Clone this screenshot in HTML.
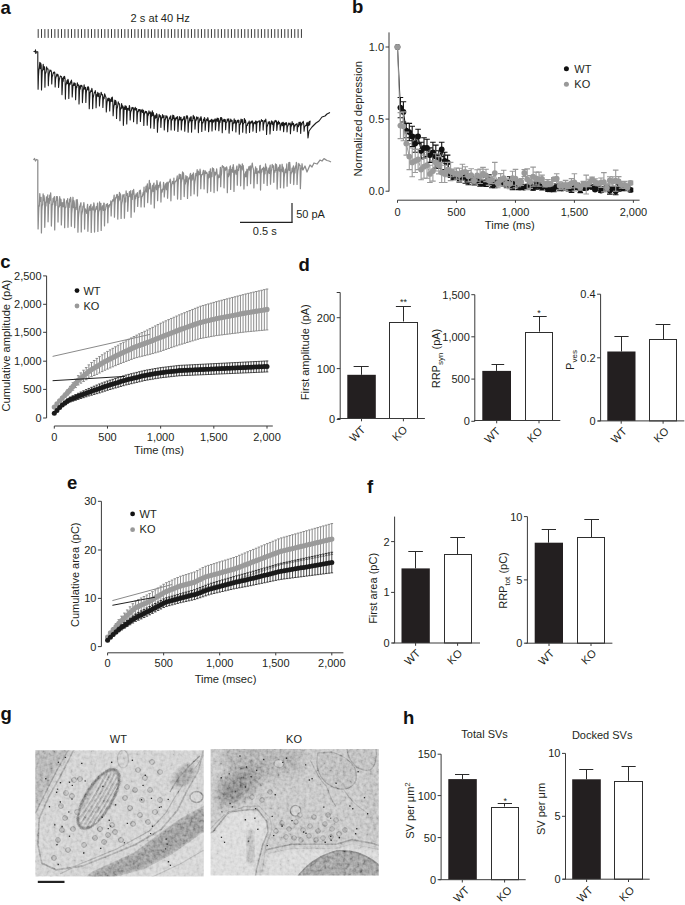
<!DOCTYPE html>
<html><head><meta charset="utf-8"><style>
html,body{margin:0;padding:0;background:#fff;width:685px;height:905px;overflow:hidden}
svg{display:block}
text{font-family:"Liberation Sans",sans-serif}
</style></head><body>
<svg width="685" height="905" viewBox="0 0 685 905">
<text x="0.5" y="13.6" font-size="18.5" text-anchor="start" font-weight="bold" fill="#111" >a</text>
<text x="352.0" y="13.3" font-size="18.5" text-anchor="start" font-weight="bold" fill="#111" >b</text>
<text x="0.3" y="268.0" font-size="18.5" text-anchor="start" font-weight="bold" fill="#111" >c</text>
<text x="298.6" y="271.3" font-size="18.5" text-anchor="start" font-weight="bold" fill="#111" >d</text>
<text x="67.0" y="489.4" font-size="18.5" text-anchor="start" font-weight="bold" fill="#111" >e</text>
<text x="367.0" y="492.9" font-size="18.5" text-anchor="start" font-weight="bold" fill="#111" >f</text>
<text x="0.5" y="719.6" font-size="18.5" text-anchor="start" font-weight="bold" fill="#111" >g</text>
<text x="403.0" y="723.8" font-size="18.5" text-anchor="start" font-weight="bold" fill="#111" >h</text>
<line x1="340.20" y1="292.50" x2="340.20" y2="419.50" stroke="#3a3a3a" stroke-width="1"/>
<line x1="336.70" y1="292.50" x2="340.20" y2="292.50" stroke="#3a3a3a" stroke-width="1"/>
<line x1="336.70" y1="317.70" x2="340.20" y2="317.70" stroke="#3a3a3a" stroke-width="1"/>
<text x="335.2" y="321.6" font-size="11" text-anchor="end" font-weight="normal" fill="#231f20" >200</text>
<line x1="336.70" y1="368.60" x2="340.20" y2="368.60" stroke="#3a3a3a" stroke-width="1"/>
<text x="335.2" y="372.5" font-size="11" text-anchor="end" font-weight="normal" fill="#231f20" >100</text>
<line x1="336.70" y1="419.50" x2="340.20" y2="419.50" stroke="#3a3a3a" stroke-width="1"/>
<text x="335.2" y="423.4" font-size="11" text-anchor="end" font-weight="normal" fill="#231f20" >0</text>
<line x1="361.50" y1="366.50" x2="361.50" y2="374.80" stroke="#2a2a2a" stroke-width="1"/>
<line x1="353.60" y1="366.50" x2="368.70" y2="366.50" stroke="#2a2a2a" stroke-width="1"/>
<rect x="347.30" y="374.80" width="28.50" height="43.70" fill="#231f20" stroke="none" stroke-width="1"/>
<line x1="403.50" y1="306.50" x2="403.50" y2="321.50" stroke="#2a2a2a" stroke-width="1"/>
<line x1="395.90" y1="306.50" x2="410.90" y2="306.50" stroke="#2a2a2a" stroke-width="1"/>
<rect x="389.50" y="322.50" width="28.00" height="96.00" fill="#fff" stroke="#2e2e2e" stroke-width="1"/>
<line x1="337.40" y1="418.50" x2="424.90" y2="418.50" stroke="#3a3a3a" stroke-width="1"/>
<line x1="361.50" y1="418.50" x2="361.50" y2="421.30" stroke="#3a3a3a" stroke-width="1"/>
<line x1="403.40" y1="418.50" x2="403.40" y2="421.30" stroke="#3a3a3a" stroke-width="1"/>
<text x="403.5" y="305.0" font-size="9" text-anchor="middle" font-weight="normal" fill="#231f20" >**</text>
<text transform="translate(309.4,352.2) rotate(-90)" font-size="11" text-anchor="middle" fill="#231f20" >First amplitude (pA)</text>
<text transform="translate(366.0,430.5) rotate(-45)" font-size="11" text-anchor="end" fill="#231f20">WT</text>
<text transform="translate(408.0,430.5) rotate(-45)" font-size="11" text-anchor="end" fill="#231f20">KO</text>
<line x1="474.80" y1="294.70" x2="474.80" y2="421.30" stroke="#3a3a3a" stroke-width="1"/>
<line x1="471.30" y1="294.70" x2="474.80" y2="294.70" stroke="#3a3a3a" stroke-width="1"/>
<text x="469.8" y="298.6" font-size="11" text-anchor="end" font-weight="normal" fill="#231f20" >1,500</text>
<line x1="471.30" y1="336.80" x2="474.80" y2="336.80" stroke="#3a3a3a" stroke-width="1"/>
<text x="469.8" y="340.7" font-size="11" text-anchor="end" font-weight="normal" fill="#231f20" >1,000</text>
<line x1="471.30" y1="379.10" x2="474.80" y2="379.10" stroke="#3a3a3a" stroke-width="1"/>
<text x="469.8" y="383.0" font-size="11" text-anchor="end" font-weight="normal" fill="#231f20" >500</text>
<line x1="471.30" y1="421.30" x2="474.80" y2="421.30" stroke="#3a3a3a" stroke-width="1"/>
<text x="469.8" y="425.2" font-size="11" text-anchor="end" font-weight="normal" fill="#231f20" >0</text>
<line x1="496.50" y1="364.50" x2="496.50" y2="370.90" stroke="#2a2a2a" stroke-width="1"/>
<line x1="491.50" y1="364.50" x2="504.20" y2="364.50" stroke="#2a2a2a" stroke-width="1"/>
<rect x="482.30" y="370.90" width="28.70" height="49.60" fill="#231f20" stroke="none" stroke-width="1"/>
<line x1="539.50" y1="316.50" x2="539.50" y2="331.70" stroke="#2a2a2a" stroke-width="1"/>
<line x1="533.00" y1="316.50" x2="546.70" y2="316.50" stroke="#2a2a2a" stroke-width="1"/>
<rect x="525.50" y="332.50" width="27.00" height="88.00" fill="#fff" stroke="#2e2e2e" stroke-width="1"/>
<line x1="474.00" y1="420.50" x2="560.30" y2="420.50" stroke="#3a3a3a" stroke-width="1"/>
<line x1="496.70" y1="420.50" x2="496.70" y2="423.30" stroke="#3a3a3a" stroke-width="1"/>
<line x1="539.00" y1="420.50" x2="539.00" y2="423.30" stroke="#3a3a3a" stroke-width="1"/>
<text x="538.9" y="315.5" font-size="9" text-anchor="middle" font-weight="normal" fill="#231f20" >*</text>
<text transform="translate(440.3,358.5) rotate(-90)" font-size="11" text-anchor="middle" fill="#231f20" >RRP<tspan font-size="8" dy="3">syn</tspan><tspan dy="-3"> (pA)</tspan></text>
<text transform="translate(501.0,432.0) rotate(-45)" font-size="11" text-anchor="end" fill="#231f20">WT</text>
<text transform="translate(543.0,432.0) rotate(-45)" font-size="11" text-anchor="end" fill="#231f20">KO</text>
<line x1="600.60" y1="294.20" x2="600.60" y2="421.00" stroke="#3a3a3a" stroke-width="1"/>
<line x1="597.10" y1="294.20" x2="600.60" y2="294.20" stroke="#3a3a3a" stroke-width="1"/>
<text x="595.6" y="298.1" font-size="11" text-anchor="end" font-weight="normal" fill="#231f20" >0.4</text>
<line x1="597.10" y1="357.80" x2="600.60" y2="357.80" stroke="#3a3a3a" stroke-width="1"/>
<text x="595.6" y="361.7" font-size="11" text-anchor="end" font-weight="normal" fill="#231f20" >0.2</text>
<line x1="597.10" y1="421.00" x2="600.60" y2="421.00" stroke="#3a3a3a" stroke-width="1"/>
<text x="595.6" y="424.9" font-size="11" text-anchor="end" font-weight="normal" fill="#231f20" >0</text>
<line x1="621.50" y1="336.50" x2="621.50" y2="351.50" stroke="#2a2a2a" stroke-width="1"/>
<line x1="614.40" y1="336.50" x2="628.60" y2="336.50" stroke="#2a2a2a" stroke-width="1"/>
<rect x="607.30" y="351.50" width="28.20" height="69.40" fill="#231f20" stroke="none" stroke-width="1"/>
<line x1="663.50" y1="324.50" x2="663.50" y2="339.40" stroke="#2a2a2a" stroke-width="1"/>
<line x1="655.60" y1="324.50" x2="670.40" y2="324.50" stroke="#2a2a2a" stroke-width="1"/>
<rect x="649.50" y="339.50" width="27.00" height="81.40" fill="#fff" stroke="#2e2e2e" stroke-width="1"/>
<line x1="598.10" y1="420.90" x2="684.30" y2="420.90" stroke="#3a3a3a" stroke-width="1"/>
<line x1="621.20" y1="420.90" x2="621.20" y2="423.70" stroke="#3a3a3a" stroke-width="1"/>
<line x1="663.10" y1="420.90" x2="663.10" y2="423.70" stroke="#3a3a3a" stroke-width="1"/>
<text transform="translate(573.8,360.0) rotate(-90)" font-size="11" text-anchor="middle" fill="#231f20" >P<tspan font-size="8" dy="3">ves</tspan></text>
<text transform="translate(627.5,432.0) rotate(-45)" font-size="11" text-anchor="end" fill="#231f20">WT</text>
<text transform="translate(669.5,432.0) rotate(-45)" font-size="11" text-anchor="end" fill="#231f20">KO</text>
<line x1="394.60" y1="516.60" x2="394.60" y2="643.00" stroke="#3a3a3a" stroke-width="1"/>
<line x1="391.10" y1="541.60" x2="394.60" y2="541.60" stroke="#3a3a3a" stroke-width="1"/>
<text x="389.6" y="545.5" font-size="11" text-anchor="end" font-weight="normal" fill="#231f20" >2</text>
<line x1="391.10" y1="592.40" x2="394.60" y2="592.40" stroke="#3a3a3a" stroke-width="1"/>
<text x="389.6" y="596.3" font-size="11" text-anchor="end" font-weight="normal" fill="#231f20" >1</text>
<line x1="391.10" y1="643.00" x2="394.60" y2="643.00" stroke="#3a3a3a" stroke-width="1"/>
<text x="389.6" y="646.9" font-size="11" text-anchor="end" font-weight="normal" fill="#231f20" >0</text>
<line x1="415.50" y1="551.50" x2="415.50" y2="568.40" stroke="#2a2a2a" stroke-width="1"/>
<line x1="408.30" y1="551.50" x2="422.90" y2="551.50" stroke="#2a2a2a" stroke-width="1"/>
<rect x="401.50" y="568.40" width="28.30" height="74.60" fill="#231f20" stroke="none" stroke-width="1"/>
<line x1="457.50" y1="537.50" x2="457.50" y2="554.00" stroke="#2a2a2a" stroke-width="1"/>
<line x1="450.30" y1="537.50" x2="465.00" y2="537.50" stroke="#2a2a2a" stroke-width="1"/>
<rect x="444.50" y="554.50" width="27.00" height="88.50" fill="#fff" stroke="#2e2e2e" stroke-width="1"/>
<line x1="392.40" y1="643.00" x2="480.00" y2="643.00" stroke="#3a3a3a" stroke-width="1"/>
<line x1="415.60" y1="643.00" x2="415.60" y2="645.80" stroke="#3a3a3a" stroke-width="1"/>
<line x1="457.60" y1="643.00" x2="457.60" y2="645.80" stroke="#3a3a3a" stroke-width="1"/>
<text transform="translate(376.6,588.4) rotate(-90)" font-size="11" text-anchor="middle" fill="#231f20" >First area (pC)</text>
<text transform="translate(421.0,654.0) rotate(-45)" font-size="11" text-anchor="end" fill="#231f20">WT</text>
<text transform="translate(463.0,654.0) rotate(-45)" font-size="11" text-anchor="end" fill="#231f20">KO</text>
<line x1="527.40" y1="516.60" x2="527.40" y2="643.20" stroke="#3a3a3a" stroke-width="1"/>
<line x1="523.90" y1="516.60" x2="527.40" y2="516.60" stroke="#3a3a3a" stroke-width="1"/>
<text x="522.4" y="520.5" font-size="11" text-anchor="end" font-weight="normal" fill="#231f20" >10</text>
<line x1="523.90" y1="579.90" x2="527.40" y2="579.90" stroke="#3a3a3a" stroke-width="1"/>
<text x="522.4" y="583.8" font-size="11" text-anchor="end" font-weight="normal" fill="#231f20" >5</text>
<line x1="523.90" y1="643.20" x2="527.40" y2="643.20" stroke="#3a3a3a" stroke-width="1"/>
<text x="522.4" y="647.1" font-size="11" text-anchor="end" font-weight="normal" fill="#231f20" >0</text>
<line x1="548.50" y1="529.50" x2="548.50" y2="542.70" stroke="#2a2a2a" stroke-width="1"/>
<line x1="541.70" y1="529.50" x2="556.00" y2="529.50" stroke="#2a2a2a" stroke-width="1"/>
<rect x="534.70" y="542.70" width="28.30" height="100.50" fill="#231f20" stroke="none" stroke-width="1"/>
<line x1="591.50" y1="519.50" x2="591.50" y2="537.00" stroke="#2a2a2a" stroke-width="1"/>
<line x1="584.30" y1="519.50" x2="599.00" y2="519.50" stroke="#2a2a2a" stroke-width="1"/>
<rect x="577.50" y="537.50" width="27.00" height="105.70" fill="#fff" stroke="#2e2e2e" stroke-width="1"/>
<line x1="525.50" y1="643.20" x2="612.40" y2="643.20" stroke="#3a3a3a" stroke-width="1"/>
<line x1="549.00" y1="643.20" x2="549.00" y2="646.00" stroke="#3a3a3a" stroke-width="1"/>
<line x1="591.00" y1="643.20" x2="591.00" y2="646.00" stroke="#3a3a3a" stroke-width="1"/>
<text transform="translate(507.0,580.5) rotate(-90)" font-size="11" text-anchor="middle" fill="#231f20" >RRP<tspan font-size="8" dy="3">tot</tspan><tspan dy="-3"> (pC)</tspan></text>
<text transform="translate(555.0,654.0) rotate(-45)" font-size="11" text-anchor="end" fill="#231f20">WT</text>
<text transform="translate(597.0,654.0) rotate(-45)" font-size="11" text-anchor="end" fill="#231f20">KO</text>
<text x="484.6" y="738.4" font-size="11" text-anchor="middle" font-weight="normal" fill="#231f20" >Total SVs</text>
<line x1="441.10" y1="754.20" x2="441.10" y2="879.70" stroke="#3a3a3a" stroke-width="1"/>
<line x1="437.60" y1="754.20" x2="441.10" y2="754.20" stroke="#3a3a3a" stroke-width="1"/>
<text x="436.1" y="758.1" font-size="11" text-anchor="end" font-weight="normal" fill="#231f20" >150</text>
<line x1="437.60" y1="795.60" x2="441.10" y2="795.60" stroke="#3a3a3a" stroke-width="1"/>
<text x="436.1" y="799.5" font-size="11" text-anchor="end" font-weight="normal" fill="#231f20" >100</text>
<line x1="437.60" y1="837.60" x2="441.10" y2="837.60" stroke="#3a3a3a" stroke-width="1"/>
<text x="436.1" y="841.5" font-size="11" text-anchor="end" font-weight="normal" fill="#231f20" >50</text>
<line x1="437.60" y1="879.70" x2="441.10" y2="879.70" stroke="#3a3a3a" stroke-width="1"/>
<text x="436.1" y="883.6" font-size="11" text-anchor="end" font-weight="normal" fill="#231f20" >0</text>
<line x1="462.50" y1="774.50" x2="462.50" y2="779.10" stroke="#2a2a2a" stroke-width="1"/>
<line x1="455.00" y1="774.50" x2="469.30" y2="774.50" stroke="#2a2a2a" stroke-width="1"/>
<rect x="448.30" y="779.10" width="28.50" height="100.60" fill="#231f20" stroke="none" stroke-width="1"/>
<line x1="504.50" y1="803.50" x2="504.50" y2="806.60" stroke="#2a2a2a" stroke-width="1"/>
<line x1="497.70" y1="803.50" x2="512.00" y2="803.50" stroke="#2a2a2a" stroke-width="1"/>
<rect x="491.50" y="807.50" width="27.00" height="72.20" fill="#fff" stroke="#2e2e2e" stroke-width="1"/>
<line x1="438.80" y1="879.70" x2="525.70" y2="879.70" stroke="#3a3a3a" stroke-width="1"/>
<line x1="462.30" y1="879.70" x2="462.30" y2="882.50" stroke="#3a3a3a" stroke-width="1"/>
<line x1="504.60" y1="879.70" x2="504.60" y2="882.50" stroke="#3a3a3a" stroke-width="1"/>
<text x="505.2" y="803.5" font-size="9" text-anchor="middle" font-weight="normal" fill="#231f20" >*</text>
<text transform="translate(414.3,810.5) rotate(-90)" font-size="11" text-anchor="middle" fill="#231f20" >SV per μm<tspan font-size="8" dy="-4">2</tspan></text>
<text transform="translate(470.0,891.0) rotate(-45)" font-size="11" text-anchor="end" fill="#231f20">WT</text>
<text transform="translate(512.5,891.0) rotate(-45)" font-size="11" text-anchor="end" fill="#231f20">KO</text>
<text x="602.2" y="738.6" font-size="11" text-anchor="middle" font-weight="normal" fill="#231f20" >Docked SVs</text>
<line x1="565.50" y1="753.40" x2="565.50" y2="879.20" stroke="#3a3a3a" stroke-width="1"/>
<line x1="562.00" y1="753.40" x2="565.50" y2="753.40" stroke="#3a3a3a" stroke-width="1"/>
<text x="560.5" y="757.3" font-size="11" text-anchor="end" font-weight="normal" fill="#231f20" >10</text>
<line x1="562.00" y1="816.30" x2="565.50" y2="816.30" stroke="#3a3a3a" stroke-width="1"/>
<text x="560.5" y="820.2" font-size="11" text-anchor="end" font-weight="normal" fill="#231f20" >5</text>
<line x1="562.00" y1="879.20" x2="565.50" y2="879.20" stroke="#3a3a3a" stroke-width="1"/>
<text x="560.5" y="883.1" font-size="11" text-anchor="end" font-weight="normal" fill="#231f20" >0</text>
<line x1="586.50" y1="769.50" x2="586.50" y2="779.30" stroke="#2a2a2a" stroke-width="1"/>
<line x1="579.20" y1="769.50" x2="593.30" y2="769.50" stroke="#2a2a2a" stroke-width="1"/>
<rect x="572.20" y="779.30" width="28.60" height="99.90" fill="#231f20" stroke="none" stroke-width="1"/>
<line x1="628.50" y1="766.50" x2="628.50" y2="780.80" stroke="#2a2a2a" stroke-width="1"/>
<line x1="621.50" y1="766.50" x2="635.70" y2="766.50" stroke="#2a2a2a" stroke-width="1"/>
<rect x="614.50" y="781.50" width="28.00" height="97.70" fill="#fff" stroke="#2e2e2e" stroke-width="1"/>
<line x1="562.90" y1="879.20" x2="649.70" y2="879.20" stroke="#3a3a3a" stroke-width="1"/>
<line x1="586.60" y1="879.20" x2="586.60" y2="882.00" stroke="#3a3a3a" stroke-width="1"/>
<line x1="628.50" y1="879.20" x2="628.50" y2="882.00" stroke="#3a3a3a" stroke-width="1"/>
<text transform="translate(545.0,809.0) rotate(-90)" font-size="11" text-anchor="middle" fill="#231f20" >SV per μm</text>
<text transform="translate(593.5,891.0) rotate(-45)" font-size="11" text-anchor="end" fill="#231f20">WT</text>
<text transform="translate(635.0,891.0) rotate(-45)" font-size="11" text-anchor="end" fill="#231f20">KO</text>
<line x1="389.00" y1="32.40" x2="389.00" y2="191.50" stroke="#3a3a3a" stroke-width="1"/>
<line x1="385.50" y1="47.00" x2="389.00" y2="47.00" stroke="#3a3a3a" stroke-width="1"/>
<text x="384.0" y="50.9" font-size="11" text-anchor="end" font-weight="normal" fill="#231f20" >1.0</text>
<line x1="385.50" y1="119.10" x2="389.00" y2="119.10" stroke="#3a3a3a" stroke-width="1"/>
<text x="384.0" y="123.0" font-size="11" text-anchor="end" font-weight="normal" fill="#231f20" >0.5</text>
<line x1="385.50" y1="191.20" x2="389.00" y2="191.20" stroke="#3a3a3a" stroke-width="1"/>
<text x="384.0" y="195.1" font-size="11" text-anchor="end" font-weight="normal" fill="#231f20" >0.0</text>
<line x1="397.50" y1="200.20" x2="639.60" y2="200.20" stroke="#3a3a3a" stroke-width="1"/>
<line x1="397.50" y1="200.20" x2="397.50" y2="202.80" stroke="#3a3a3a" stroke-width="1"/>
<text x="397.5" y="215.5" font-size="11" text-anchor="middle" font-weight="normal" fill="#231f20" >0</text>
<line x1="456.48" y1="200.20" x2="456.48" y2="202.80" stroke="#3a3a3a" stroke-width="1"/>
<text x="456.5" y="215.5" font-size="11" text-anchor="middle" font-weight="normal" fill="#231f20" >500</text>
<line x1="515.45" y1="200.20" x2="515.45" y2="202.80" stroke="#3a3a3a" stroke-width="1"/>
<text x="515.5" y="215.5" font-size="11" text-anchor="middle" font-weight="normal" fill="#231f20" >1,000</text>
<line x1="574.42" y1="200.20" x2="574.42" y2="202.80" stroke="#3a3a3a" stroke-width="1"/>
<text x="574.4" y="215.5" font-size="11" text-anchor="middle" font-weight="normal" fill="#231f20" >1,500</text>
<line x1="633.40" y1="200.20" x2="633.40" y2="202.80" stroke="#3a3a3a" stroke-width="1"/>
<text x="633.4" y="215.5" font-size="11" text-anchor="middle" font-weight="normal" fill="#231f20" >2,000</text>
<text x="509.8" y="228.8" font-size="11.2" text-anchor="middle" font-weight="normal" fill="#231f20" >Time (ms)</text>
<text transform="translate(362.1,118.8) rotate(-90)" font-size="11.3" text-anchor="middle" fill="#231f20" >Normalized depression</text>
<circle cx="566.4" cy="68.7" r="2.5" fill="#111"/>
<circle cx="566.4" cy="84.3" r="2.5" fill="#999"/>
<text x="574.3" y="72.6" font-size="11" text-anchor="start" font-weight="normal" fill="#231f20" >WT</text>
<text x="574.3" y="87.8" font-size="11" text-anchor="start" font-weight="normal" fill="#231f20" >KO</text>
<polyline fill="none" stroke="#111" stroke-width="1.0" points="397.5,47.0 400.4,107.6 403.4,111.9 406.3,130.6 409.3,132.1 412.2,136.4 415.2,143.6 418.1,136.4 421.1,150.8 424.0,147.9 427.0,147.9 429.9,155.1 432.9,152.3 435.8,156.6 438.8,159.5 441.7,149.4 444.7,160.9 447.6,162.4 450.6,175.2 453.5,177.0 456.5,174.9 459.4,178.9 462.4,176.9 465.3,178.5 468.3,180.9 471.2,178.8 474.2,182.1 477.1,180.3 480.1,182.9 483.0,183.2 486.0,181.7 488.9,179.8 491.9,184.3 494.8,184.1 497.8,182.1 500.7,180.6 503.7,183.1 506.6,184.4 509.6,181.3 512.5,187.0 515.5,182.6 518.4,186.1 521.3,187.2 524.3,187.5 527.2,186.6 530.2,183.9 533.1,187.8 536.1,185.6 539.0,185.5 542.0,187.2 544.9,186.3 547.9,189.3 550.8,189.4 553.8,188.7 556.7,186.1 559.7,187.7 562.6,188.4 565.6,187.0 568.5,187.8 571.5,188.8 574.4,186.1 577.4,186.7 580.3,189.4 583.3,187.6 586.2,187.9 589.2,186.0 592.1,186.9 595.1,189.5 598.0,185.6 601.0,190.6 603.9,188.9 606.9,187.0 609.8,190.6 612.8,188.7 615.7,191.3 618.7,187.7 621.6,187.2 624.6,188.3 627.5,186.6 630.5,189.9"/>
<path d="M400.4 97.5V117.7M397.6 97.5h5.6M397.6 117.7h5.6" stroke="#111" stroke-width="1.1" fill="none"/>
<path d="M403.4 101.8V122.0M400.6 101.8h5.6M400.6 122.0h5.6" stroke="#111" stroke-width="1.1" fill="none"/>
<path d="M406.3 123.4V137.8M403.5 123.4h5.6M403.5 137.8h5.6" stroke="#111" stroke-width="1.1" fill="none"/>
<path d="M409.3 123.4V140.7M406.5 123.4h5.6M406.5 140.7h5.6" stroke="#111" stroke-width="1.1" fill="none"/>
<path d="M412.2 126.3V146.5M409.4 126.3h5.6M409.4 146.5h5.6" stroke="#111" stroke-width="1.1" fill="none"/>
<path d="M415.2 135.0V152.3M412.4 135.0h5.6M412.4 152.3h5.6" stroke="#111" stroke-width="1.1" fill="none"/>
<path d="M418.1 129.2V143.6M415.3 129.2h5.6M415.3 143.6h5.6" stroke="#111" stroke-width="1.1" fill="none"/>
<path d="M421.1 142.2V159.5M418.3 142.2h5.6M418.3 159.5h5.6" stroke="#111" stroke-width="1.1" fill="none"/>
<path d="M424.0 137.8V158.0M421.2 137.8h5.6M421.2 158.0h5.6" stroke="#111" stroke-width="1.1" fill="none"/>
<path d="M427.0 139.3V156.6M424.2 139.3h5.6M424.2 156.6h5.6" stroke="#111" stroke-width="1.1" fill="none"/>
<path d="M429.9 147.9V162.4M427.1 147.9h5.6M427.1 162.4h5.6" stroke="#111" stroke-width="1.1" fill="none"/>
<path d="M432.9 142.2V162.4M430.1 142.2h5.6M430.1 162.4h5.6" stroke="#111" stroke-width="1.1" fill="none"/>
<path d="M435.8 145.1V168.1M433.0 145.1h5.6M433.0 168.1h5.6" stroke="#111" stroke-width="1.1" fill="none"/>
<path d="M438.8 150.8V168.1M436.0 150.8h5.6M436.0 168.1h5.6" stroke="#111" stroke-width="1.1" fill="none"/>
<path d="M441.7 142.2V156.6M438.9 142.2h5.6M438.9 156.6h5.6" stroke="#111" stroke-width="1.1" fill="none"/>
<path d="M444.7 152.3V169.6M441.9 152.3h5.6M441.9 169.6h5.6" stroke="#111" stroke-width="1.1" fill="none"/>
<path d="M447.6 155.1V169.6M444.8 155.1h5.6M444.8 169.6h5.6" stroke="#111" stroke-width="1.1" fill="none"/>
<path d="M450.6 173.1V177.4M447.8 173.1h5.6M447.8 177.4h5.6" stroke="#111" stroke-width="1.1" fill="none"/>
<path d="M453.5 174.4V179.6M450.7 174.4h5.6M450.7 179.6h5.6" stroke="#111" stroke-width="1.1" fill="none"/>
<path d="M456.5 172.4V177.3M453.7 172.4h5.6M453.7 177.3h5.6" stroke="#111" stroke-width="1.1" fill="none"/>
<path d="M459.4 175.7V182.1M456.6 175.7h5.6M456.6 182.1h5.6" stroke="#111" stroke-width="1.1" fill="none"/>
<path d="M462.4 174.6V179.1M459.6 174.6h5.6M459.6 179.1h5.6" stroke="#111" stroke-width="1.1" fill="none"/>
<path d="M465.3 173.8V183.2M462.5 173.8h5.6M462.5 183.2h5.6" stroke="#111" stroke-width="1.1" fill="none"/>
<path d="M468.3 176.9V184.8M465.5 176.9h5.6M465.5 184.8h5.6" stroke="#111" stroke-width="1.1" fill="none"/>
<path d="M471.2 176.2V181.4M468.4 176.2h5.6M468.4 181.4h5.6" stroke="#111" stroke-width="1.1" fill="none"/>
<path d="M474.2 179.2V185.0M471.4 179.2h5.6M471.4 185.0h5.6" stroke="#111" stroke-width="1.1" fill="none"/>
<path d="M477.1 177.1V183.5M474.3 177.1h5.6M474.3 183.5h5.6" stroke="#111" stroke-width="1.1" fill="none"/>
<path d="M480.1 179.7V186.1M477.3 179.7h5.6M477.3 186.1h5.6" stroke="#111" stroke-width="1.1" fill="none"/>
<path d="M483.0 180.7V185.8M480.2 180.7h5.6M480.2 185.8h5.6" stroke="#111" stroke-width="1.1" fill="none"/>
<path d="M486.0 177.1V186.4M483.2 177.1h5.6M483.2 186.4h5.6" stroke="#111" stroke-width="1.1" fill="none"/>
<path d="M488.9 174.8V184.9M486.1 174.8h5.6M486.1 184.9h5.6" stroke="#111" stroke-width="1.1" fill="none"/>
<path d="M491.9 180.8V187.8M489.1 180.8h5.6M489.1 187.8h5.6" stroke="#111" stroke-width="1.1" fill="none"/>
<path d="M494.8 180.5V187.6M492.0 180.5h5.6M492.0 187.6h5.6" stroke="#111" stroke-width="1.1" fill="none"/>
<path d="M497.8 179.7V184.5M495.0 179.7h5.6M495.0 184.5h5.6" stroke="#111" stroke-width="1.1" fill="none"/>
<path d="M500.7 178.1V183.1M497.9 178.1h5.6M497.9 183.1h5.6" stroke="#111" stroke-width="1.1" fill="none"/>
<path d="M503.7 179.9V186.2M500.9 179.9h5.6M500.9 186.2h5.6" stroke="#111" stroke-width="1.1" fill="none"/>
<path d="M506.6 181.5V187.3M503.8 181.5h5.6M503.8 187.3h5.6" stroke="#111" stroke-width="1.1" fill="none"/>
<path d="M509.6 176.8V185.9M506.8 176.8h5.6M506.8 185.9h5.6" stroke="#111" stroke-width="1.1" fill="none"/>
<path d="M512.5 184.3V189.6M509.7 184.3h5.6M509.7 189.6h5.6" stroke="#111" stroke-width="1.1" fill="none"/>
<path d="M515.5 180.3V184.8M512.7 180.3h5.6M512.7 184.8h5.6" stroke="#111" stroke-width="1.1" fill="none"/>
<path d="M518.4 182.6V189.6M515.6 182.6h5.6M515.6 189.6h5.6" stroke="#111" stroke-width="1.1" fill="none"/>
<path d="M521.3 184.7V189.6M518.5 184.7h5.6M518.5 189.6h5.6" stroke="#111" stroke-width="1.1" fill="none"/>
<path d="M524.3 186.0V189.0M521.5 186.0h5.6M521.5 189.0h5.6" stroke="#111" stroke-width="1.1" fill="none"/>
<path d="M527.2 184.2V189.1M524.4 184.2h5.6M524.4 189.1h5.6" stroke="#111" stroke-width="1.1" fill="none"/>
<path d="M530.2 182.7V185.1M527.4 182.7h5.6M527.4 185.1h5.6" stroke="#111" stroke-width="1.1" fill="none"/>
<path d="M533.1 185.3V190.2M530.3 185.3h5.6M530.3 190.2h5.6" stroke="#111" stroke-width="1.1" fill="none"/>
<path d="M536.1 182.1V189.2M533.3 182.1h5.6M533.3 189.2h5.6" stroke="#111" stroke-width="1.1" fill="none"/>
<path d="M539.0 182.2V188.7M536.2 182.2h5.6M536.2 188.7h5.6" stroke="#111" stroke-width="1.1" fill="none"/>
<path d="M542.0 184.3V190.0M539.2 184.3h5.6M539.2 190.0h5.6" stroke="#111" stroke-width="1.1" fill="none"/>
<path d="M544.9 184.5V188.1M542.1 184.5h5.6M542.1 188.1h5.6" stroke="#111" stroke-width="1.1" fill="none"/>
<path d="M547.9 187.2V191.3M545.1 187.2h5.6M545.1 191.3h5.6" stroke="#111" stroke-width="1.1" fill="none"/>
<path d="M550.8 187.9V191.0M548.0 187.9h5.6M548.0 191.0h5.6" stroke="#111" stroke-width="1.1" fill="none"/>
<path d="M553.8 185.7V191.7M551.0 185.7h5.6M551.0 191.7h5.6" stroke="#111" stroke-width="1.1" fill="none"/>
<path d="M556.7 183.6V188.6M553.9 183.6h5.6M553.9 188.6h5.6" stroke="#111" stroke-width="1.1" fill="none"/>
<path d="M559.7 184.6V190.7M556.9 184.6h5.6M556.9 190.7h5.6" stroke="#111" stroke-width="1.1" fill="none"/>
<path d="M562.6 186.5V190.4M559.8 186.5h5.6M559.8 190.4h5.6" stroke="#111" stroke-width="1.1" fill="none"/>
<path d="M565.6 185.3V188.7M562.8 185.3h5.6M562.8 188.7h5.6" stroke="#111" stroke-width="1.1" fill="none"/>
<path d="M568.5 184.7V191.0M565.7 184.7h5.6M565.7 191.0h5.6" stroke="#111" stroke-width="1.1" fill="none"/>
<path d="M571.5 185.3V192.4M568.7 185.3h5.6M568.7 192.4h5.6" stroke="#111" stroke-width="1.1" fill="none"/>
<path d="M574.4 182.8V189.3M571.6 182.8h5.6M571.6 189.3h5.6" stroke="#111" stroke-width="1.1" fill="none"/>
<path d="M577.4 183.6V189.8M574.6 183.6h5.6M574.6 189.8h5.6" stroke="#111" stroke-width="1.1" fill="none"/>
<path d="M580.3 186.2V192.6M577.5 186.2h5.6M577.5 192.6h5.6" stroke="#111" stroke-width="1.1" fill="none"/>
<path d="M583.3 184.6V190.5M580.5 184.6h5.6M580.5 190.5h5.6" stroke="#111" stroke-width="1.1" fill="none"/>
<path d="M586.2 186.2V189.6M583.4 186.2h5.6M583.4 189.6h5.6" stroke="#111" stroke-width="1.1" fill="none"/>
<path d="M589.2 183.6V188.4M586.4 183.6h5.6M586.4 188.4h5.6" stroke="#111" stroke-width="1.1" fill="none"/>
<path d="M592.1 184.9V188.9M589.3 184.9h5.6M589.3 188.9h5.6" stroke="#111" stroke-width="1.1" fill="none"/>
<path d="M595.1 188.3V190.7M592.3 188.3h5.6M592.3 190.7h5.6" stroke="#111" stroke-width="1.1" fill="none"/>
<path d="M598.0 184.4V186.8M595.2 184.4h5.6M595.2 186.8h5.6" stroke="#111" stroke-width="1.1" fill="none"/>
<path d="M601.0 188.8V192.4M598.2 188.8h5.6M598.2 192.4h5.6" stroke="#111" stroke-width="1.1" fill="none"/>
<path d="M603.9 187.1V190.7M601.1 187.1h5.6M601.1 190.7h5.6" stroke="#111" stroke-width="1.1" fill="none"/>
<path d="M606.9 184.2V189.9M604.1 184.2h5.6M604.1 189.9h5.6" stroke="#111" stroke-width="1.1" fill="none"/>
<path d="M609.8 187.1V194.1M607.0 187.1h5.6M607.0 194.1h5.6" stroke="#111" stroke-width="1.1" fill="none"/>
<path d="M612.8 186.4V190.9M610.0 186.4h5.6M610.0 190.9h5.6" stroke="#111" stroke-width="1.1" fill="none"/>
<path d="M615.7 187.9V194.8M612.9 187.9h5.6M612.9 194.8h5.6" stroke="#111" stroke-width="1.1" fill="none"/>
<path d="M618.7 184.1V191.3M615.9 184.1h5.6M615.9 191.3h5.6" stroke="#111" stroke-width="1.1" fill="none"/>
<path d="M621.6 183.7V190.7M618.8 183.7h5.6M618.8 190.7h5.6" stroke="#111" stroke-width="1.1" fill="none"/>
<path d="M624.6 186.3V190.4M621.8 186.3h5.6M621.8 190.4h5.6" stroke="#111" stroke-width="1.1" fill="none"/>
<path d="M627.5 184.9V188.3M624.7 184.9h5.6M624.7 188.3h5.6" stroke="#111" stroke-width="1.1" fill="none"/>
<path d="M630.5 188.2V191.6M627.7 188.2h5.6M627.7 191.6h5.6" stroke="#111" stroke-width="1.1" fill="none"/>
<circle cx="397.5" cy="47.0" r="2.9" fill="#111"/>
<circle cx="400.4" cy="107.6" r="2.9" fill="#111"/>
<circle cx="403.4" cy="111.9" r="2.9" fill="#111"/>
<circle cx="406.3" cy="130.6" r="2.9" fill="#111"/>
<circle cx="409.3" cy="132.1" r="2.9" fill="#111"/>
<circle cx="412.2" cy="136.4" r="2.9" fill="#111"/>
<circle cx="415.2" cy="143.6" r="2.9" fill="#111"/>
<circle cx="418.1" cy="136.4" r="2.9" fill="#111"/>
<circle cx="421.1" cy="150.8" r="2.9" fill="#111"/>
<circle cx="424.0" cy="147.9" r="2.9" fill="#111"/>
<circle cx="427.0" cy="147.9" r="2.9" fill="#111"/>
<circle cx="429.9" cy="155.1" r="2.9" fill="#111"/>
<circle cx="432.9" cy="152.3" r="2.9" fill="#111"/>
<circle cx="435.8" cy="156.6" r="2.9" fill="#111"/>
<circle cx="438.8" cy="159.5" r="2.9" fill="#111"/>
<circle cx="441.7" cy="149.4" r="2.9" fill="#111"/>
<circle cx="444.7" cy="160.9" r="2.9" fill="#111"/>
<circle cx="447.6" cy="162.4" r="2.9" fill="#111"/>
<circle cx="450.6" cy="175.2" r="2.9" fill="#111"/>
<circle cx="453.5" cy="177.0" r="2.9" fill="#111"/>
<circle cx="456.5" cy="174.9" r="2.9" fill="#111"/>
<circle cx="459.4" cy="178.9" r="2.9" fill="#111"/>
<circle cx="462.4" cy="176.9" r="2.9" fill="#111"/>
<circle cx="465.3" cy="178.5" r="2.9" fill="#111"/>
<circle cx="468.3" cy="180.9" r="2.9" fill="#111"/>
<circle cx="471.2" cy="178.8" r="2.9" fill="#111"/>
<circle cx="474.2" cy="182.1" r="2.9" fill="#111"/>
<circle cx="477.1" cy="180.3" r="2.9" fill="#111"/>
<circle cx="480.1" cy="182.9" r="2.9" fill="#111"/>
<circle cx="483.0" cy="183.2" r="2.9" fill="#111"/>
<circle cx="486.0" cy="181.7" r="2.9" fill="#111"/>
<circle cx="488.9" cy="179.8" r="2.9" fill="#111"/>
<circle cx="491.9" cy="184.3" r="2.9" fill="#111"/>
<circle cx="494.8" cy="184.1" r="2.9" fill="#111"/>
<circle cx="497.8" cy="182.1" r="2.9" fill="#111"/>
<circle cx="500.7" cy="180.6" r="2.9" fill="#111"/>
<circle cx="503.7" cy="183.1" r="2.9" fill="#111"/>
<circle cx="506.6" cy="184.4" r="2.9" fill="#111"/>
<circle cx="509.6" cy="181.3" r="2.9" fill="#111"/>
<circle cx="512.5" cy="187.0" r="2.9" fill="#111"/>
<circle cx="515.5" cy="182.6" r="2.9" fill="#111"/>
<circle cx="518.4" cy="186.1" r="2.9" fill="#111"/>
<circle cx="521.3" cy="187.2" r="2.9" fill="#111"/>
<circle cx="524.3" cy="187.5" r="2.9" fill="#111"/>
<circle cx="527.2" cy="186.6" r="2.9" fill="#111"/>
<circle cx="530.2" cy="183.9" r="2.9" fill="#111"/>
<circle cx="533.1" cy="187.8" r="2.9" fill="#111"/>
<circle cx="536.1" cy="185.6" r="2.9" fill="#111"/>
<circle cx="539.0" cy="185.5" r="2.9" fill="#111"/>
<circle cx="542.0" cy="187.2" r="2.9" fill="#111"/>
<circle cx="544.9" cy="186.3" r="2.9" fill="#111"/>
<circle cx="547.9" cy="189.3" r="2.9" fill="#111"/>
<circle cx="550.8" cy="189.4" r="2.9" fill="#111"/>
<circle cx="553.8" cy="188.7" r="2.9" fill="#111"/>
<circle cx="556.7" cy="186.1" r="2.9" fill="#111"/>
<circle cx="559.7" cy="187.7" r="2.9" fill="#111"/>
<circle cx="562.6" cy="188.4" r="2.9" fill="#111"/>
<circle cx="565.6" cy="187.0" r="2.9" fill="#111"/>
<circle cx="568.5" cy="187.8" r="2.9" fill="#111"/>
<circle cx="571.5" cy="188.8" r="2.9" fill="#111"/>
<circle cx="574.4" cy="186.1" r="2.9" fill="#111"/>
<circle cx="577.4" cy="186.7" r="2.9" fill="#111"/>
<circle cx="580.3" cy="189.4" r="2.9" fill="#111"/>
<circle cx="583.3" cy="187.6" r="2.9" fill="#111"/>
<circle cx="586.2" cy="187.9" r="2.9" fill="#111"/>
<circle cx="589.2" cy="186.0" r="2.9" fill="#111"/>
<circle cx="592.1" cy="186.9" r="2.9" fill="#111"/>
<circle cx="595.1" cy="189.5" r="2.9" fill="#111"/>
<circle cx="598.0" cy="185.6" r="2.9" fill="#111"/>
<circle cx="601.0" cy="190.6" r="2.9" fill="#111"/>
<circle cx="603.9" cy="188.9" r="2.9" fill="#111"/>
<circle cx="606.9" cy="187.0" r="2.9" fill="#111"/>
<circle cx="609.8" cy="190.6" r="2.9" fill="#111"/>
<circle cx="612.8" cy="188.7" r="2.9" fill="#111"/>
<circle cx="615.7" cy="191.3" r="2.9" fill="#111"/>
<circle cx="618.7" cy="187.7" r="2.9" fill="#111"/>
<circle cx="621.6" cy="187.2" r="2.9" fill="#111"/>
<circle cx="624.6" cy="188.3" r="2.9" fill="#111"/>
<circle cx="627.5" cy="186.6" r="2.9" fill="#111"/>
<circle cx="630.5" cy="189.9" r="2.9" fill="#111"/>
<polyline fill="none" stroke="#9a9a9a" stroke-width="1.0" points="397.5,47.0 400.4,125.6 403.4,126.3 406.3,143.6 409.3,156.6 412.2,162.4 415.2,160.9 418.1,159.5 421.1,169.6 424.0,166.7 427.0,165.2 429.9,173.9 432.9,171.0 435.8,162.4 438.8,165.2 441.7,172.5 444.7,173.9 447.6,169.6 450.6,171.5 453.5,172.9 456.5,173.5 459.4,175.1 462.4,172.3 465.3,171.8 468.3,176.3 471.2,175.1 474.2,180.7 477.1,175.5 480.1,176.3 483.0,173.6 486.0,175.4 488.9,180.4 491.9,179.8 494.8,173.1 497.8,183.5 500.7,179.9 503.7,178.1 506.6,183.4 509.6,184.1 512.5,178.2 515.5,178.7 518.4,183.1 521.3,182.0 524.3,173.0 527.2,179.2 530.2,182.0 533.1,176.7 536.1,178.5 539.0,179.2 542.0,179.0 544.9,184.2 547.9,183.1 550.8,183.7 553.8,179.2 556.7,178.7 559.7,185.8 562.6,185.7 565.6,185.3 568.5,185.3 571.5,183.2 574.4,182.4 577.4,185.3 580.3,187.6 583.3,184.1 586.2,184.6 589.2,182.9 592.1,179.6 595.1,182.0 598.0,183.5 601.0,182.7 603.9,182.2 606.9,187.7 609.8,180.4 612.8,181.5 615.7,180.7 618.7,181.4 621.6,184.9 624.6,184.9 627.5,187.5 630.5,182.9"/>
<path d="M400.4 112.6V138.6M397.6 112.6h5.6M397.6 138.6h5.6" stroke="#9a9a9a" stroke-width="1.1" fill="none"/>
<path d="M403.4 111.9V140.7M400.6 111.9h5.6M400.6 140.7h5.6" stroke="#9a9a9a" stroke-width="1.1" fill="none"/>
<path d="M406.3 132.1V155.1M403.5 132.1h5.6M403.5 155.1h5.6" stroke="#9a9a9a" stroke-width="1.1" fill="none"/>
<path d="M409.3 143.6V169.6M406.5 143.6h5.6M406.5 169.6h5.6" stroke="#9a9a9a" stroke-width="1.1" fill="none"/>
<path d="M412.2 147.9V176.8M409.4 147.9h5.6M409.4 176.8h5.6" stroke="#9a9a9a" stroke-width="1.1" fill="none"/>
<path d="M415.2 149.4V172.5M412.4 149.4h5.6M412.4 172.5h5.6" stroke="#9a9a9a" stroke-width="1.1" fill="none"/>
<path d="M418.1 149.4V169.6M415.3 149.4h5.6M415.3 169.6h5.6" stroke="#9a9a9a" stroke-width="1.1" fill="none"/>
<path d="M421.1 159.5V179.7M418.3 159.5h5.6M418.3 179.7h5.6" stroke="#9a9a9a" stroke-width="1.1" fill="none"/>
<path d="M424.0 155.1V178.2M421.2 155.1h5.6M421.2 178.2h5.6" stroke="#9a9a9a" stroke-width="1.1" fill="none"/>
<path d="M427.0 152.3V178.2M424.2 152.3h5.6M424.2 178.2h5.6" stroke="#9a9a9a" stroke-width="1.1" fill="none"/>
<path d="M429.9 165.2V182.5M427.1 165.2h5.6M427.1 182.5h5.6" stroke="#9a9a9a" stroke-width="1.1" fill="none"/>
<path d="M432.9 160.9V181.1M430.1 160.9h5.6M430.1 181.1h5.6" stroke="#9a9a9a" stroke-width="1.1" fill="none"/>
<path d="M435.8 153.7V171.0M433.0 153.7h5.6M433.0 171.0h5.6" stroke="#9a9a9a" stroke-width="1.1" fill="none"/>
<path d="M438.8 156.6V173.9M436.0 156.6h5.6M436.0 173.9h5.6" stroke="#9a9a9a" stroke-width="1.1" fill="none"/>
<path d="M441.7 162.4V182.5M438.9 162.4h5.6M438.9 182.5h5.6" stroke="#9a9a9a" stroke-width="1.1" fill="none"/>
<path d="M444.7 165.2V182.5M441.9 165.2h5.6M441.9 182.5h5.6" stroke="#9a9a9a" stroke-width="1.1" fill="none"/>
<path d="M447.6 162.4V176.8M444.8 162.4h5.6M444.8 176.8h5.6" stroke="#9a9a9a" stroke-width="1.1" fill="none"/>
<path d="M450.6 162.4V180.6M447.8 162.4h5.6M447.8 180.6h5.6" stroke="#9a9a9a" stroke-width="1.1" fill="none"/>
<path d="M453.5 169.1V176.7M450.7 169.1h5.6M450.7 176.7h5.6" stroke="#9a9a9a" stroke-width="1.1" fill="none"/>
<path d="M456.5 168.0V179.1M453.7 168.0h5.6M453.7 179.1h5.6" stroke="#9a9a9a" stroke-width="1.1" fill="none"/>
<path d="M459.4 168.3V181.9M456.6 168.3h5.6M456.6 181.9h5.6" stroke="#9a9a9a" stroke-width="1.1" fill="none"/>
<path d="M462.4 164.3V180.3M459.6 164.3h5.6M459.6 180.3h5.6" stroke="#9a9a9a" stroke-width="1.1" fill="none"/>
<path d="M465.3 166.8V176.8M462.5 166.8h5.6M462.5 176.8h5.6" stroke="#9a9a9a" stroke-width="1.1" fill="none"/>
<path d="M468.3 170.6V182.0M465.5 170.6h5.6M465.5 182.0h5.6" stroke="#9a9a9a" stroke-width="1.1" fill="none"/>
<path d="M471.2 168.7V181.4M468.4 168.7h5.6M468.4 181.4h5.6" stroke="#9a9a9a" stroke-width="1.1" fill="none"/>
<path d="M474.2 177.4V183.9M471.4 177.4h5.6M471.4 183.9h5.6" stroke="#9a9a9a" stroke-width="1.1" fill="none"/>
<path d="M477.1 169.7V181.2M474.3 169.7h5.6M474.3 181.2h5.6" stroke="#9a9a9a" stroke-width="1.1" fill="none"/>
<path d="M480.1 169.1V183.5M477.3 169.1h5.6M477.3 183.5h5.6" stroke="#9a9a9a" stroke-width="1.1" fill="none"/>
<path d="M483.0 167.4V179.9M480.2 167.4h5.6M480.2 179.9h5.6" stroke="#9a9a9a" stroke-width="1.1" fill="none"/>
<path d="M486.0 169.3V181.6M483.2 169.3h5.6M483.2 181.6h5.6" stroke="#9a9a9a" stroke-width="1.1" fill="none"/>
<path d="M488.9 175.5V185.4M486.1 175.5h5.6M486.1 185.4h5.6" stroke="#9a9a9a" stroke-width="1.1" fill="none"/>
<path d="M491.9 176.2V183.5M489.1 176.2h5.6M489.1 183.5h5.6" stroke="#9a9a9a" stroke-width="1.1" fill="none"/>
<path d="M494.8 162.4V183.7M492.0 162.4h5.6M492.0 183.7h5.6" stroke="#9a9a9a" stroke-width="1.1" fill="none"/>
<path d="M497.8 179.2V187.8M495.0 179.2h5.6M495.0 187.8h5.6" stroke="#9a9a9a" stroke-width="1.1" fill="none"/>
<path d="M500.7 173.6V186.3M497.9 173.6h5.6M497.9 186.3h5.6" stroke="#9a9a9a" stroke-width="1.1" fill="none"/>
<path d="M503.7 170.2V186.1M500.9 170.2h5.6M500.9 186.1h5.6" stroke="#9a9a9a" stroke-width="1.1" fill="none"/>
<path d="M506.6 178.8V188.0M503.8 178.8h5.6M503.8 188.0h5.6" stroke="#9a9a9a" stroke-width="1.1" fill="none"/>
<path d="M509.6 179.5V188.7M506.8 179.5h5.6M506.8 188.7h5.6" stroke="#9a9a9a" stroke-width="1.1" fill="none"/>
<path d="M512.5 171.2V185.2M509.7 171.2h5.6M509.7 185.2h5.6" stroke="#9a9a9a" stroke-width="1.1" fill="none"/>
<path d="M515.5 169.4V187.9M512.7 169.4h5.6M512.7 187.9h5.6" stroke="#9a9a9a" stroke-width="1.1" fill="none"/>
<path d="M518.4 179.5V186.7M515.6 179.5h5.6M515.6 186.7h5.6" stroke="#9a9a9a" stroke-width="1.1" fill="none"/>
<path d="M521.3 178.6V185.5M518.5 178.6h5.6M518.5 185.5h5.6" stroke="#9a9a9a" stroke-width="1.1" fill="none"/>
<path d="M524.3 169.5V176.5M521.5 169.5h5.6M521.5 176.5h5.6" stroke="#9a9a9a" stroke-width="1.1" fill="none"/>
<path d="M527.2 168.9V189.6M524.4 168.9h5.6M524.4 189.6h5.6" stroke="#9a9a9a" stroke-width="1.1" fill="none"/>
<path d="M530.2 175.6V188.4M527.4 175.6h5.6M527.4 188.4h5.6" stroke="#9a9a9a" stroke-width="1.1" fill="none"/>
<path d="M533.1 167.1V186.3M530.3 167.1h5.6M530.3 186.3h5.6" stroke="#9a9a9a" stroke-width="1.1" fill="none"/>
<path d="M536.1 172.1V185.0M533.3 172.1h5.6M533.3 185.0h5.6" stroke="#9a9a9a" stroke-width="1.1" fill="none"/>
<path d="M539.0 172.1V186.3M536.2 172.1h5.6M536.2 186.3h5.6" stroke="#9a9a9a" stroke-width="1.1" fill="none"/>
<path d="M542.0 175.1V182.9M539.2 175.1h5.6M539.2 182.9h5.6" stroke="#9a9a9a" stroke-width="1.1" fill="none"/>
<path d="M544.9 181.3V187.0M542.1 181.3h5.6M542.1 187.0h5.6" stroke="#9a9a9a" stroke-width="1.1" fill="none"/>
<path d="M547.9 179.5V186.6M545.1 179.5h5.6M545.1 186.6h5.6" stroke="#9a9a9a" stroke-width="1.1" fill="none"/>
<path d="M550.8 181.5V185.8M548.0 181.5h5.6M548.0 185.8h5.6" stroke="#9a9a9a" stroke-width="1.1" fill="none"/>
<path d="M553.8 177.5V181.0M551.0 177.5h5.6M551.0 181.0h5.6" stroke="#9a9a9a" stroke-width="1.1" fill="none"/>
<path d="M556.7 173.8V183.7M553.9 173.8h5.6M553.9 183.7h5.6" stroke="#9a9a9a" stroke-width="1.1" fill="none"/>
<path d="M559.7 181.9V189.7M556.9 181.9h5.6M556.9 189.7h5.6" stroke="#9a9a9a" stroke-width="1.1" fill="none"/>
<path d="M562.6 182.2V189.1M559.8 182.2h5.6M559.8 189.1h5.6" stroke="#9a9a9a" stroke-width="1.1" fill="none"/>
<path d="M565.6 180.4V190.1M562.8 180.4h5.6M562.8 190.1h5.6" stroke="#9a9a9a" stroke-width="1.1" fill="none"/>
<path d="M568.5 182.2V188.5M565.7 182.2h5.6M565.7 188.5h5.6" stroke="#9a9a9a" stroke-width="1.1" fill="none"/>
<path d="M571.5 178.6V187.9M568.7 178.6h5.6M568.7 187.9h5.6" stroke="#9a9a9a" stroke-width="1.1" fill="none"/>
<path d="M574.4 173.8V191.0M571.6 173.8h5.6M571.6 191.0h5.6" stroke="#9a9a9a" stroke-width="1.1" fill="none"/>
<path d="M577.4 182.9V187.7M574.6 182.9h5.6M574.6 187.7h5.6" stroke="#9a9a9a" stroke-width="1.1" fill="none"/>
<path d="M580.3 185.0V190.2M577.5 185.0h5.6M577.5 190.2h5.6" stroke="#9a9a9a" stroke-width="1.1" fill="none"/>
<path d="M583.3 181.4V186.8M580.5 181.4h5.6M580.5 186.8h5.6" stroke="#9a9a9a" stroke-width="1.1" fill="none"/>
<path d="M586.2 175.1V194.0M583.4 175.1h5.6M583.4 194.0h5.6" stroke="#9a9a9a" stroke-width="1.1" fill="none"/>
<path d="M589.2 179.3V186.6M586.4 179.3h5.6M586.4 186.6h5.6" stroke="#9a9a9a" stroke-width="1.1" fill="none"/>
<path d="M592.1 177.1V182.2M589.3 177.1h5.6M589.3 182.2h5.6" stroke="#9a9a9a" stroke-width="1.1" fill="none"/>
<path d="M595.1 178.8V185.1M592.3 178.8h5.6M592.3 185.1h5.6" stroke="#9a9a9a" stroke-width="1.1" fill="none"/>
<path d="M598.0 181.4V185.7M595.2 181.4h5.6M595.2 185.7h5.6" stroke="#9a9a9a" stroke-width="1.1" fill="none"/>
<path d="M601.0 178.0V187.4M598.2 178.0h5.6M598.2 187.4h5.6" stroke="#9a9a9a" stroke-width="1.1" fill="none"/>
<path d="M603.9 172.6V191.9M601.1 172.6h5.6M601.1 191.9h5.6" stroke="#9a9a9a" stroke-width="1.1" fill="none"/>
<path d="M606.9 184.4V190.9M604.1 184.4h5.6M604.1 190.9h5.6" stroke="#9a9a9a" stroke-width="1.1" fill="none"/>
<path d="M609.8 176.7V184.1M607.0 176.7h5.6M607.0 184.1h5.6" stroke="#9a9a9a" stroke-width="1.1" fill="none"/>
<path d="M612.8 176.7V186.2M610.0 176.7h5.6M610.0 186.2h5.6" stroke="#9a9a9a" stroke-width="1.1" fill="none"/>
<path d="M615.7 170.1V191.3M612.9 170.1h5.6M612.9 191.3h5.6" stroke="#9a9a9a" stroke-width="1.1" fill="none"/>
<path d="M618.7 176.6V186.2M615.9 176.6h5.6M615.9 186.2h5.6" stroke="#9a9a9a" stroke-width="1.1" fill="none"/>
<path d="M621.6 181.5V188.3M618.8 181.5h5.6M618.8 188.3h5.6" stroke="#9a9a9a" stroke-width="1.1" fill="none"/>
<path d="M624.6 181.4V188.4M621.8 181.4h5.6M621.8 188.4h5.6" stroke="#9a9a9a" stroke-width="1.1" fill="none"/>
<path d="M627.5 184.0V191.0M624.7 184.0h5.6M624.7 191.0h5.6" stroke="#9a9a9a" stroke-width="1.1" fill="none"/>
<path d="M630.5 181.1V184.7M627.7 181.1h5.6M627.7 184.7h5.6" stroke="#9a9a9a" stroke-width="1.1" fill="none"/>
<circle cx="397.5" cy="47.0" r="2.9" fill="#9a9a9a"/>
<circle cx="400.4" cy="125.6" r="2.9" fill="#9a9a9a"/>
<circle cx="403.4" cy="126.3" r="2.9" fill="#9a9a9a"/>
<circle cx="406.3" cy="143.6" r="2.9" fill="#9a9a9a"/>
<circle cx="409.3" cy="156.6" r="2.9" fill="#9a9a9a"/>
<circle cx="412.2" cy="162.4" r="2.9" fill="#9a9a9a"/>
<circle cx="415.2" cy="160.9" r="2.9" fill="#9a9a9a"/>
<circle cx="418.1" cy="159.5" r="2.9" fill="#9a9a9a"/>
<circle cx="421.1" cy="169.6" r="2.9" fill="#9a9a9a"/>
<circle cx="424.0" cy="166.7" r="2.9" fill="#9a9a9a"/>
<circle cx="427.0" cy="165.2" r="2.9" fill="#9a9a9a"/>
<circle cx="429.9" cy="173.9" r="2.9" fill="#9a9a9a"/>
<circle cx="432.9" cy="171.0" r="2.9" fill="#9a9a9a"/>
<circle cx="435.8" cy="162.4" r="2.9" fill="#9a9a9a"/>
<circle cx="438.8" cy="165.2" r="2.9" fill="#9a9a9a"/>
<circle cx="441.7" cy="172.5" r="2.9" fill="#9a9a9a"/>
<circle cx="444.7" cy="173.9" r="2.9" fill="#9a9a9a"/>
<circle cx="447.6" cy="169.6" r="2.9" fill="#9a9a9a"/>
<circle cx="450.6" cy="171.5" r="2.9" fill="#9a9a9a"/>
<circle cx="453.5" cy="172.9" r="2.9" fill="#9a9a9a"/>
<circle cx="456.5" cy="173.5" r="2.9" fill="#9a9a9a"/>
<circle cx="459.4" cy="175.1" r="2.9" fill="#9a9a9a"/>
<circle cx="462.4" cy="172.3" r="2.9" fill="#9a9a9a"/>
<circle cx="465.3" cy="171.8" r="2.9" fill="#9a9a9a"/>
<circle cx="468.3" cy="176.3" r="2.9" fill="#9a9a9a"/>
<circle cx="471.2" cy="175.1" r="2.9" fill="#9a9a9a"/>
<circle cx="474.2" cy="180.7" r="2.9" fill="#9a9a9a"/>
<circle cx="477.1" cy="175.5" r="2.9" fill="#9a9a9a"/>
<circle cx="480.1" cy="176.3" r="2.9" fill="#9a9a9a"/>
<circle cx="483.0" cy="173.6" r="2.9" fill="#9a9a9a"/>
<circle cx="486.0" cy="175.4" r="2.9" fill="#9a9a9a"/>
<circle cx="488.9" cy="180.4" r="2.9" fill="#9a9a9a"/>
<circle cx="491.9" cy="179.8" r="2.9" fill="#9a9a9a"/>
<circle cx="494.8" cy="173.1" r="2.9" fill="#9a9a9a"/>
<circle cx="497.8" cy="183.5" r="2.9" fill="#9a9a9a"/>
<circle cx="500.7" cy="179.9" r="2.9" fill="#9a9a9a"/>
<circle cx="503.7" cy="178.1" r="2.9" fill="#9a9a9a"/>
<circle cx="506.6" cy="183.4" r="2.9" fill="#9a9a9a"/>
<circle cx="509.6" cy="184.1" r="2.9" fill="#9a9a9a"/>
<circle cx="512.5" cy="178.2" r="2.9" fill="#9a9a9a"/>
<circle cx="515.5" cy="178.7" r="2.9" fill="#9a9a9a"/>
<circle cx="518.4" cy="183.1" r="2.9" fill="#9a9a9a"/>
<circle cx="521.3" cy="182.0" r="2.9" fill="#9a9a9a"/>
<circle cx="524.3" cy="173.0" r="2.9" fill="#9a9a9a"/>
<circle cx="527.2" cy="179.2" r="2.9" fill="#9a9a9a"/>
<circle cx="530.2" cy="182.0" r="2.9" fill="#9a9a9a"/>
<circle cx="533.1" cy="176.7" r="2.9" fill="#9a9a9a"/>
<circle cx="536.1" cy="178.5" r="2.9" fill="#9a9a9a"/>
<circle cx="539.0" cy="179.2" r="2.9" fill="#9a9a9a"/>
<circle cx="542.0" cy="179.0" r="2.9" fill="#9a9a9a"/>
<circle cx="544.9" cy="184.2" r="2.9" fill="#9a9a9a"/>
<circle cx="547.9" cy="183.1" r="2.9" fill="#9a9a9a"/>
<circle cx="550.8" cy="183.7" r="2.9" fill="#9a9a9a"/>
<circle cx="553.8" cy="179.2" r="2.9" fill="#9a9a9a"/>
<circle cx="556.7" cy="178.7" r="2.9" fill="#9a9a9a"/>
<circle cx="559.7" cy="185.8" r="2.9" fill="#9a9a9a"/>
<circle cx="562.6" cy="185.7" r="2.9" fill="#9a9a9a"/>
<circle cx="565.6" cy="185.3" r="2.9" fill="#9a9a9a"/>
<circle cx="568.5" cy="185.3" r="2.9" fill="#9a9a9a"/>
<circle cx="571.5" cy="183.2" r="2.9" fill="#9a9a9a"/>
<circle cx="574.4" cy="182.4" r="2.9" fill="#9a9a9a"/>
<circle cx="577.4" cy="185.3" r="2.9" fill="#9a9a9a"/>
<circle cx="580.3" cy="187.6" r="2.9" fill="#9a9a9a"/>
<circle cx="583.3" cy="184.1" r="2.9" fill="#9a9a9a"/>
<circle cx="586.2" cy="184.6" r="2.9" fill="#9a9a9a"/>
<circle cx="589.2" cy="182.9" r="2.9" fill="#9a9a9a"/>
<circle cx="592.1" cy="179.6" r="2.9" fill="#9a9a9a"/>
<circle cx="595.1" cy="182.0" r="2.9" fill="#9a9a9a"/>
<circle cx="598.0" cy="183.5" r="2.9" fill="#9a9a9a"/>
<circle cx="601.0" cy="182.7" r="2.9" fill="#9a9a9a"/>
<circle cx="603.9" cy="182.2" r="2.9" fill="#9a9a9a"/>
<circle cx="606.9" cy="187.7" r="2.9" fill="#9a9a9a"/>
<circle cx="609.8" cy="180.4" r="2.9" fill="#9a9a9a"/>
<circle cx="612.8" cy="181.5" r="2.9" fill="#9a9a9a"/>
<circle cx="615.7" cy="180.7" r="2.9" fill="#9a9a9a"/>
<circle cx="618.7" cy="181.4" r="2.9" fill="#9a9a9a"/>
<circle cx="621.6" cy="184.9" r="2.9" fill="#9a9a9a"/>
<circle cx="624.6" cy="184.9" r="2.9" fill="#9a9a9a"/>
<circle cx="627.5" cy="187.5" r="2.9" fill="#9a9a9a"/>
<circle cx="630.5" cy="182.9" r="2.9" fill="#9a9a9a"/>
<line x1="46.60" y1="275.90" x2="46.60" y2="418.00" stroke="#3a3a3a" stroke-width="1"/>
<line x1="43.10" y1="275.90" x2="46.60" y2="275.90" stroke="#3a3a3a" stroke-width="1"/>
<text x="41.6" y="279.8" font-size="11" text-anchor="end" font-weight="normal" fill="#231f20" >2,500</text>
<line x1="43.10" y1="304.30" x2="46.60" y2="304.30" stroke="#3a3a3a" stroke-width="1"/>
<text x="41.6" y="308.2" font-size="11" text-anchor="end" font-weight="normal" fill="#231f20" >2,000</text>
<line x1="43.10" y1="332.30" x2="46.60" y2="332.30" stroke="#3a3a3a" stroke-width="1"/>
<text x="41.6" y="336.2" font-size="11" text-anchor="end" font-weight="normal" fill="#231f20" >1,500</text>
<line x1="43.10" y1="361.20" x2="46.60" y2="361.20" stroke="#3a3a3a" stroke-width="1"/>
<text x="41.6" y="365.1" font-size="11" text-anchor="end" font-weight="normal" fill="#231f20" >1,000</text>
<line x1="43.10" y1="389.40" x2="46.60" y2="389.40" stroke="#3a3a3a" stroke-width="1"/>
<text x="41.6" y="393.3" font-size="11" text-anchor="end" font-weight="normal" fill="#231f20" >500</text>
<line x1="43.10" y1="418.00" x2="46.60" y2="418.00" stroke="#3a3a3a" stroke-width="1"/>
<text x="41.6" y="421.9" font-size="11" text-anchor="end" font-weight="normal" fill="#231f20" >0</text>
<line x1="54.30" y1="426.00" x2="272.80" y2="426.00" stroke="#3a3a3a" stroke-width="1"/>
<line x1="54.30" y1="426.00" x2="54.30" y2="428.60" stroke="#3a3a3a" stroke-width="1"/>
<text x="54.3" y="440.8" font-size="11" text-anchor="middle" font-weight="normal" fill="#231f20" >0</text>
<line x1="107.47" y1="426.00" x2="107.47" y2="428.60" stroke="#3a3a3a" stroke-width="1"/>
<text x="107.5" y="440.8" font-size="11" text-anchor="middle" font-weight="normal" fill="#231f20" >500</text>
<line x1="160.65" y1="426.00" x2="160.65" y2="428.60" stroke="#3a3a3a" stroke-width="1"/>
<text x="160.6" y="440.8" font-size="11" text-anchor="middle" font-weight="normal" fill="#231f20" >1,000</text>
<line x1="213.82" y1="426.00" x2="213.82" y2="428.60" stroke="#3a3a3a" stroke-width="1"/>
<text x="213.8" y="440.8" font-size="11" text-anchor="middle" font-weight="normal" fill="#231f20" >1,500</text>
<line x1="267.00" y1="426.00" x2="267.00" y2="428.60" stroke="#3a3a3a" stroke-width="1"/>
<text x="267.0" y="440.8" font-size="11" text-anchor="middle" font-weight="normal" fill="#231f20" >2,000</text>
<text x="159.0" y="454.4" font-size="11.2" text-anchor="middle" font-weight="normal" fill="#231f20" >Time (ms)</text>
<text transform="translate(10,411.5) rotate(-90)" font-size="11.2" fill="#231f20">Cumulative amplitude (pA)</text>
<circle cx="77" cy="290.6" r="2.4" fill="#111"/>
<circle cx="77" cy="306" r="2.4" fill="#999"/>
<text x="83.4" y="294.7" font-size="11" text-anchor="start" font-weight="normal" fill="#231f20" >WT</text>
<text x="83.4" y="309.8" font-size="11" text-anchor="start" font-weight="normal" fill="#231f20" >KO</text>
<line x1="52.60" y1="356.40" x2="150.00" y2="334.40" stroke="#8a8a8a" stroke-width="1"/>
<path d="M56.96 402.88V404.79M55.66 402.88h2.60M55.66 404.79h2.60M59.62 399.42V402.23M58.32 399.42h2.60M58.32 402.23h2.60M62.28 396.19V399.90M60.98 396.19h2.60M60.98 399.90h2.60M64.94 392.95V397.57M63.64 392.95h2.60M63.64 397.57h2.60M67.59 389.71V395.23M66.29 389.71h2.60M66.29 395.23h2.60M70.25 386.33V392.77M68.95 386.33h2.60M68.95 392.77h2.60M72.91 382.77V390.17M71.61 382.77h2.60M71.61 390.17h2.60M75.57 379.22V387.57M74.27 379.22h2.60M74.27 387.57h2.60M78.23 375.67V384.96M76.93 375.67h2.60M76.93 384.96h2.60M80.89 372.90V383.15M79.59 372.90h2.60M79.59 383.15h2.60M83.55 370.23V381.43M82.25 370.23h2.60M82.25 381.43h2.60M86.20 367.56V379.71M84.91 367.56h2.60M84.91 379.71h2.60M88.86 364.89V377.99M87.56 364.89h2.60M87.56 377.99h2.60M91.52 362.56V376.61M90.22 362.56h2.60M90.22 376.61h2.60M94.18 360.49V375.49M92.88 360.49h2.60M92.88 375.49h2.60M96.84 358.42V374.37M95.54 358.42h2.60M95.54 374.37h2.60M99.50 356.60V373.00M98.20 356.60h2.60M98.20 373.00h2.60M102.16 354.80V371.61M100.86 354.80h2.60M100.86 371.61h2.60M104.82 352.99V370.23M103.52 352.99h2.60M103.52 370.23h2.60M107.47 351.42V369.07M106.17 351.42h2.60M106.17 369.07h2.60M110.13 349.86V367.94M108.83 349.86h2.60M108.83 367.94h2.60M112.79 348.30V366.80M111.49 348.30h2.60M111.49 366.80h2.60M115.45 346.75V365.66M114.15 346.75h2.60M114.15 365.66h2.60M118.11 345.19V364.52M116.81 345.19h2.60M116.81 364.52h2.60M120.77 343.68V363.43M119.47 343.68h2.60M119.47 363.43h2.60M123.43 342.24V362.42M122.13 342.24h2.60M122.13 362.42h2.60M126.09 340.81V361.40M124.79 340.81h2.60M124.79 361.40h2.60M128.75 339.37V360.39M127.45 339.37h2.60M127.45 360.39h2.60M131.40 337.94V359.37M130.10 337.94h2.60M130.10 359.37h2.60M134.06 336.51V358.36M132.76 336.51h2.60M132.76 358.36h2.60M136.72 335.16V357.58M135.42 335.16h2.60M135.42 357.58h2.60M139.38 333.87V356.92M138.08 333.87h2.60M138.08 356.92h2.60M142.04 332.57V356.26M140.74 332.57h2.60M140.74 356.26h2.60M144.70 331.28V355.61M143.40 331.28h2.60M143.40 355.61h2.60M147.36 329.99V354.95M146.06 329.99h2.60M146.06 354.95h2.60M150.01 328.69V354.30M148.71 328.69h2.60M148.71 354.30h2.60M152.67 327.31V353.55M151.37 327.31h2.60M151.37 353.55h2.60M155.33 325.93V352.81M154.03 325.93h2.60M154.03 352.81h2.60M157.99 324.54V352.06M156.69 324.54h2.60M156.69 352.06h2.60M160.65 323.21V351.27M159.35 323.21h2.60M159.35 351.27h2.60M163.31 322.00V350.35M162.01 322.00h2.60M162.01 350.35h2.60M165.97 320.81V349.43M164.67 320.81h2.60M164.67 349.43h2.60M168.63 319.62V348.53M167.33 319.62h2.60M167.33 348.53h2.60M171.28 318.44V347.62M169.98 318.44h2.60M169.98 347.62h2.60M173.94 317.25V346.72M172.64 317.25h2.60M172.64 346.72h2.60M176.60 316.07V345.82M175.30 316.07h2.60M175.30 345.82h2.60M179.26 314.89V344.92M177.96 314.89h2.60M177.96 344.92h2.60M181.92 313.80V344.11M180.62 313.80h2.60M180.62 344.11h2.60M184.58 312.71V343.30M183.28 312.71h2.60M183.28 343.30h2.60M187.24 311.62V342.49M185.94 311.62h2.60M185.94 342.49h2.60M189.90 310.53V341.68M188.60 310.53h2.60M188.60 341.68h2.60M192.56 309.45V340.87M191.25 309.45h2.60M191.25 340.87h2.60M195.21 308.36V340.06M193.91 308.36h2.60M193.91 340.06h2.60M197.87 307.27V339.25M196.57 307.27h2.60M196.57 339.25h2.60M200.53 306.24V338.51M199.23 306.24h2.60M199.23 338.51h2.60M203.19 305.48V338.02M201.89 305.48h2.60M201.89 338.02h2.60M205.85 304.71V337.54M204.55 304.71h2.60M204.55 337.54h2.60M208.51 303.95V337.05M207.21 303.95h2.60M207.21 337.05h2.60M211.17 303.18V336.57M209.87 303.18h2.60M209.87 336.57h2.60M213.82 302.41V336.08M212.52 302.41h2.60M212.52 336.08h2.60M216.48 301.65V335.59M215.18 301.65h2.60M215.18 335.59h2.60M219.14 300.94V335.23M217.84 300.94h2.60M217.84 335.23h2.60M221.80 300.24V334.90M220.50 300.24h2.60M220.50 334.90h2.60M224.46 299.54V334.57M223.16 299.54h2.60M223.16 334.57h2.60M227.12 298.85V334.23M225.82 298.85h2.60M225.82 334.23h2.60M229.78 298.15V333.90M228.48 298.15h2.60M228.48 333.90h2.60M232.44 297.45V333.57M231.14 297.45h2.60M231.14 333.57h2.60M235.09 296.75V333.24M233.79 296.75h2.60M233.79 333.24h2.60M237.75 296.06V332.91M236.45 296.06h2.60M236.45 332.91h2.60M240.41 295.36V332.57M239.11 295.36h2.60M239.11 332.57h2.60M243.07 294.66V332.24M241.77 294.66h2.60M241.77 332.24h2.60M245.73 293.97V331.92M244.43 293.97h2.60M244.43 331.92h2.60M248.39 293.36V331.66M247.09 293.36h2.60M247.09 331.66h2.60M251.05 292.74V331.41M249.75 292.74h2.60M249.75 331.41h2.60M253.71 292.12V331.16M252.41 292.12h2.60M252.41 331.16h2.60M256.37 291.50V330.91M255.06 291.50h2.60M255.06 330.91h2.60M259.02 290.89V330.65M257.72 290.89h2.60M257.72 330.65h2.60M261.68 290.27V330.40M260.38 290.27h2.60M260.38 330.40h2.60M264.34 289.65V330.15M263.04 289.65h2.60M263.04 330.15h2.60M267.00 289.03V329.90M265.70 289.03h2.60M265.70 329.90h2.60" stroke="#8c8c8c" stroke-width="1.0" fill="none"/>
<polyline fill="none" stroke="#9a9a9a" stroke-width="1" points="54.3,407.0 57.0,403.8 59.6,400.8 62.3,398.0 64.9,395.3 67.6,392.5 70.3,389.5 72.9,386.5 75.6,383.4 78.2,380.3 80.9,378.0 83.5,375.8 86.2,373.6 88.9,371.4 91.5,369.6 94.2,368.0 96.8,366.4 99.5,364.8 102.2,363.2 104.8,361.6 107.5,360.2 110.1,358.9 112.8,357.6 115.5,356.2 118.1,354.9 120.8,353.6 123.4,352.3 126.1,351.1 128.7,349.9 131.4,348.7 134.1,347.4 136.7,346.4 139.4,345.4 142.0,344.4 144.7,343.4 147.4,342.5 150.0,341.5 152.7,340.4 155.3,339.4 158.0,338.3 160.6,337.2 163.3,336.2 166.0,335.1 168.6,334.1 171.3,333.0 173.9,332.0 176.6,330.9 179.3,329.9 181.9,329.0 184.6,328.0 187.2,327.1 189.9,326.1 192.6,325.2 195.2,324.2 197.9,323.3 200.5,322.4 203.2,321.7 205.8,321.1 208.5,320.5 211.2,319.9 213.8,319.2 216.5,318.6 219.1,318.1 221.8,317.6 224.5,317.1 227.1,316.5 229.8,316.0 232.4,315.5 235.1,315.0 237.8,314.5 240.4,314.0 243.1,313.5 245.7,312.9 248.4,312.5 251.0,312.1 253.7,311.6 256.4,311.2 259.0,310.8 261.7,310.3 264.3,309.9 267.0,309.5"/>
<circle cx="54.30" cy="407.00" r="2.6" fill="#9a9a9a"/>
<circle cx="56.96" cy="403.83" r="2.6" fill="#9a9a9a"/>
<circle cx="59.62" cy="400.83" r="2.6" fill="#9a9a9a"/>
<circle cx="62.28" cy="398.04" r="2.6" fill="#9a9a9a"/>
<circle cx="64.94" cy="395.26" r="2.6" fill="#9a9a9a"/>
<circle cx="67.59" cy="392.47" r="2.6" fill="#9a9a9a"/>
<circle cx="70.25" cy="389.55" r="2.6" fill="#9a9a9a"/>
<circle cx="72.91" cy="386.47" r="2.6" fill="#9a9a9a"/>
<circle cx="75.57" cy="383.39" r="2.6" fill="#9a9a9a"/>
<circle cx="78.23" cy="380.31" r="2.6" fill="#9a9a9a"/>
<circle cx="80.89" cy="378.03" r="2.6" fill="#9a9a9a"/>
<circle cx="83.55" cy="375.83" r="2.6" fill="#9a9a9a"/>
<circle cx="86.20" cy="373.63" r="2.6" fill="#9a9a9a"/>
<circle cx="88.86" cy="371.44" r="2.6" fill="#9a9a9a"/>
<circle cx="91.52" cy="369.59" r="2.6" fill="#9a9a9a"/>
<circle cx="94.18" cy="367.99" r="2.6" fill="#9a9a9a"/>
<circle cx="96.84" cy="366.40" r="2.6" fill="#9a9a9a"/>
<circle cx="99.50" cy="364.80" r="2.6" fill="#9a9a9a"/>
<circle cx="102.16" cy="363.21" r="2.6" fill="#9a9a9a"/>
<circle cx="104.82" cy="361.61" r="2.6" fill="#9a9a9a"/>
<circle cx="107.47" cy="360.25" r="2.6" fill="#9a9a9a"/>
<circle cx="110.13" cy="358.90" r="2.6" fill="#9a9a9a"/>
<circle cx="112.79" cy="357.55" r="2.6" fill="#9a9a9a"/>
<circle cx="115.45" cy="356.20" r="2.6" fill="#9a9a9a"/>
<circle cx="118.11" cy="354.86" r="2.6" fill="#9a9a9a"/>
<circle cx="120.77" cy="353.55" r="2.6" fill="#9a9a9a"/>
<circle cx="123.43" cy="352.33" r="2.6" fill="#9a9a9a"/>
<circle cx="126.09" cy="351.11" r="2.6" fill="#9a9a9a"/>
<circle cx="128.75" cy="349.88" r="2.6" fill="#9a9a9a"/>
<circle cx="131.40" cy="348.66" r="2.6" fill="#9a9a9a"/>
<circle cx="134.06" cy="347.43" r="2.6" fill="#9a9a9a"/>
<circle cx="136.72" cy="346.37" r="2.6" fill="#9a9a9a"/>
<circle cx="139.38" cy="345.39" r="2.6" fill="#9a9a9a"/>
<circle cx="142.04" cy="344.42" r="2.6" fill="#9a9a9a"/>
<circle cx="144.70" cy="343.44" r="2.6" fill="#9a9a9a"/>
<circle cx="147.36" cy="342.47" r="2.6" fill="#9a9a9a"/>
<circle cx="150.01" cy="341.49" r="2.6" fill="#9a9a9a"/>
<circle cx="152.67" cy="340.43" r="2.6" fill="#9a9a9a"/>
<circle cx="155.33" cy="339.37" r="2.6" fill="#9a9a9a"/>
<circle cx="157.99" cy="338.30" r="2.6" fill="#9a9a9a"/>
<circle cx="160.65" cy="337.24" r="2.6" fill="#9a9a9a"/>
<circle cx="163.31" cy="336.18" r="2.6" fill="#9a9a9a"/>
<circle cx="165.97" cy="335.12" r="2.6" fill="#9a9a9a"/>
<circle cx="168.63" cy="334.08" r="2.6" fill="#9a9a9a"/>
<circle cx="171.28" cy="333.03" r="2.6" fill="#9a9a9a"/>
<circle cx="173.94" cy="331.99" r="2.6" fill="#9a9a9a"/>
<circle cx="176.60" cy="330.94" r="2.6" fill="#9a9a9a"/>
<circle cx="179.26" cy="329.91" r="2.6" fill="#9a9a9a"/>
<circle cx="181.92" cy="328.96" r="2.6" fill="#9a9a9a"/>
<circle cx="184.58" cy="328.01" r="2.6" fill="#9a9a9a"/>
<circle cx="187.24" cy="327.06" r="2.6" fill="#9a9a9a"/>
<circle cx="189.90" cy="326.11" r="2.6" fill="#9a9a9a"/>
<circle cx="192.56" cy="325.16" r="2.6" fill="#9a9a9a"/>
<circle cx="195.21" cy="324.21" r="2.6" fill="#9a9a9a"/>
<circle cx="197.87" cy="323.26" r="2.6" fill="#9a9a9a"/>
<circle cx="200.53" cy="322.38" r="2.6" fill="#9a9a9a"/>
<circle cx="203.19" cy="321.75" r="2.6" fill="#9a9a9a"/>
<circle cx="205.85" cy="321.12" r="2.6" fill="#9a9a9a"/>
<circle cx="208.51" cy="320.50" r="2.6" fill="#9a9a9a"/>
<circle cx="211.17" cy="319.87" r="2.6" fill="#9a9a9a"/>
<circle cx="213.82" cy="319.25" r="2.6" fill="#9a9a9a"/>
<circle cx="216.48" cy="318.62" r="2.6" fill="#9a9a9a"/>
<circle cx="219.14" cy="318.09" r="2.6" fill="#9a9a9a"/>
<circle cx="221.80" cy="317.57" r="2.6" fill="#9a9a9a"/>
<circle cx="224.46" cy="317.06" r="2.6" fill="#9a9a9a"/>
<circle cx="227.12" cy="316.54" r="2.6" fill="#9a9a9a"/>
<circle cx="229.78" cy="316.03" r="2.6" fill="#9a9a9a"/>
<circle cx="232.44" cy="315.51" r="2.6" fill="#9a9a9a"/>
<circle cx="235.09" cy="315.00" r="2.6" fill="#9a9a9a"/>
<circle cx="237.75" cy="314.48" r="2.6" fill="#9a9a9a"/>
<circle cx="240.41" cy="313.97" r="2.6" fill="#9a9a9a"/>
<circle cx="243.07" cy="313.45" r="2.6" fill="#9a9a9a"/>
<circle cx="245.73" cy="312.95" r="2.6" fill="#9a9a9a"/>
<circle cx="248.39" cy="312.51" r="2.6" fill="#9a9a9a"/>
<circle cx="251.05" cy="312.08" r="2.6" fill="#9a9a9a"/>
<circle cx="253.71" cy="311.64" r="2.6" fill="#9a9a9a"/>
<circle cx="256.37" cy="311.20" r="2.6" fill="#9a9a9a"/>
<circle cx="259.02" cy="310.77" r="2.6" fill="#9a9a9a"/>
<circle cx="261.68" cy="310.33" r="2.6" fill="#9a9a9a"/>
<circle cx="264.34" cy="309.90" r="2.6" fill="#9a9a9a"/>
<circle cx="267.00" cy="309.46" r="2.6" fill="#9a9a9a"/>
<line x1="52.60" y1="380.70" x2="125.00" y2="376.40" stroke="#222" stroke-width="1"/>
<path d="M56.96 409.62V411.29M55.66 409.62h2.60M55.66 411.29h2.60M59.62 406.43V408.79M58.32 406.43h2.60M58.32 408.79h2.60M62.28 403.53V406.56M60.98 403.53h2.60M60.98 406.56h2.60M64.94 401.19V404.90M63.64 401.19h2.60M63.64 404.90h2.60M67.59 398.86V403.25M66.29 398.86h2.60M66.29 403.25h2.60M70.25 396.99V402.02M68.95 396.99h2.60M68.95 402.02h2.60M72.91 395.76V401.15M71.61 395.76h2.60M71.61 401.15h2.60M75.57 394.54V400.28M74.27 394.54h2.60M74.27 400.28h2.60M78.23 393.31V399.41M76.93 393.31h2.60M76.93 399.41h2.60M80.89 392.08V398.53M79.59 392.08h2.60M79.59 398.53h2.60M83.55 390.85V397.66M82.25 390.85h2.60M82.25 397.66h2.60M86.20 389.63V396.79M84.91 389.63h2.60M84.91 396.79h2.60M88.86 388.44V395.95M87.56 388.44h2.60M87.56 395.95h2.60M91.52 387.32V395.19M90.22 387.32h2.60M90.22 395.19h2.60M94.18 386.21V394.43M92.88 386.21h2.60M92.88 394.43h2.60M96.84 385.09V393.67M95.54 385.09h2.60M95.54 393.67h2.60M99.50 383.98V392.91M98.20 383.98h2.60M98.20 392.91h2.60M102.16 382.97V392.04M100.86 382.97h2.60M100.86 392.04h2.60M104.82 381.99V391.15M103.52 381.99h2.60M103.52 391.15h2.60M107.47 381.03V390.28M106.17 381.03h2.60M106.17 390.28h2.60M110.13 380.17V389.51M108.83 380.17h2.60M108.83 389.51h2.60M112.79 379.32V388.74M111.49 379.32h2.60M111.49 388.74h2.60M115.45 378.46V387.98M114.15 378.46h2.60M114.15 387.98h2.60M118.11 377.61V387.21M116.81 377.61h2.60M116.81 387.21h2.60M120.77 376.75V386.44M119.47 376.75h2.60M119.47 386.44h2.60M123.43 375.89V385.68M122.13 375.89h2.60M122.13 385.68h2.60M126.09 375.04V384.91M124.79 375.04h2.60M124.79 384.91h2.60M128.75 374.36V384.31M127.45 374.36h2.60M127.45 384.31h2.60M131.40 373.69V383.70M130.10 373.69h2.60M130.10 383.70h2.60M134.06 373.03V383.06M132.76 373.03h2.60M132.76 383.06h2.60M136.72 372.38V382.43M135.42 372.38h2.60M135.42 382.43h2.60M139.38 371.73V381.79M138.08 371.73h2.60M138.08 381.79h2.60M142.04 371.07V381.16M140.74 371.07h2.60M140.74 381.16h2.60M144.70 370.42V380.53M143.40 370.42h2.60M143.40 380.53h2.60M147.36 369.93V380.05M146.06 369.93h2.60M146.06 380.05h2.60M150.01 369.46V379.60M148.71 369.46h2.60M148.71 379.60h2.60M152.67 368.99V379.15M151.37 368.99h2.60M151.37 379.15h2.60M155.33 368.52V378.70M154.03 368.52h2.60M154.03 378.70h2.60M157.99 368.05V378.25M156.69 368.05h2.60M156.69 378.25h2.60M160.65 367.61V377.84M159.35 367.61h2.60M159.35 377.84h2.60M163.31 367.30V377.54M162.01 367.30h2.60M162.01 377.54h2.60M165.97 366.98V377.24M164.67 366.98h2.60M164.67 377.24h2.60M168.63 366.66V376.94M167.33 366.66h2.60M167.33 376.94h2.60M171.28 366.34V376.64M169.98 366.34h2.60M169.98 376.64h2.60M173.94 366.03V376.34M172.64 366.03h2.60M172.64 376.34h2.60M176.60 365.71V376.05M175.30 365.71h2.60M175.30 376.05h2.60M179.26 365.41V375.77M177.96 365.41h2.60M177.96 375.77h2.60M181.92 365.27V375.65M180.62 365.27h2.60M180.62 375.65h2.60M184.58 365.14V375.53M183.28 365.14h2.60M183.28 375.53h2.60M187.24 365.00V375.42M185.94 365.00h2.60M185.94 375.42h2.60M189.90 364.87V375.30M188.60 364.87h2.60M188.60 375.30h2.60M192.56 364.73V375.19M191.25 364.73h2.60M191.25 375.19h2.60M195.21 364.60V375.07M193.91 364.60h2.60M193.91 375.07h2.60M197.87 364.46V374.96M196.57 364.46h2.60M196.57 374.96h2.60M200.53 364.33V374.84M199.23 364.33h2.60M199.23 374.84h2.60M203.19 364.19V374.72M201.89 364.19h2.60M201.89 374.72h2.60M205.85 364.06V374.61M204.55 364.06h2.60M204.55 374.61h2.60M208.51 363.92V374.49M207.21 363.92h2.60M207.21 374.49h2.60M211.17 363.79V374.38M209.87 363.79h2.60M209.87 374.38h2.60M213.82 363.65V374.26M212.52 363.65h2.60M212.52 374.26h2.60M216.48 363.52V374.14M215.18 363.52h2.60M215.18 374.14h2.60M219.14 363.38V374.03M217.84 363.38h2.60M217.84 374.03h2.60M221.80 363.25V373.91M220.50 363.25h2.60M220.50 373.91h2.60M224.46 363.11V373.80M223.16 363.11h2.60M223.16 373.80h2.60M227.12 362.98V373.68M225.82 362.98h2.60M225.82 373.68h2.60M229.78 362.84V373.57M228.48 362.84h2.60M228.48 373.57h2.60M232.44 362.71V373.45M231.14 362.71h2.60M231.14 373.45h2.60M235.09 362.57V373.33M233.79 362.57h2.60M233.79 373.33h2.60M237.75 362.44V373.22M236.45 362.44h2.60M236.45 373.22h2.60M240.41 362.30V373.10M239.11 362.30h2.60M239.11 373.10h2.60M243.07 362.17V372.99M241.77 362.17h2.60M241.77 372.99h2.60M245.73 362.03V372.87M244.43 362.03h2.60M244.43 372.87h2.60M248.39 361.90V372.75M247.09 361.90h2.60M247.09 372.75h2.60M251.05 361.76V372.64M249.75 361.76h2.60M249.75 372.64h2.60M253.71 361.63V372.52M252.41 361.63h2.60M252.41 372.52h2.60M256.37 361.49V372.41M255.06 361.49h2.60M255.06 372.41h2.60M259.02 361.36V372.29M257.72 361.36h2.60M257.72 372.29h2.60M261.68 361.22V372.18M260.38 361.22h2.60M260.38 372.18h2.60M264.34 361.09V372.06M263.04 361.09h2.60M263.04 372.06h2.60M267.00 360.95V371.94M265.70 360.95h2.60M265.70 371.94h2.60" stroke="#1a1a1a" stroke-width="0.8" fill="none"/>
<polyline fill="none" stroke="#1a1a1a" stroke-width="1" points="54.3,413.3 57.0,410.5 59.6,407.6 62.3,405.0 64.9,403.0 67.6,401.1 70.3,399.5 72.9,398.5 75.6,397.4 78.2,396.4 80.9,395.3 83.5,394.3 86.2,393.2 88.9,392.2 91.5,391.3 94.2,390.3 96.8,389.4 99.5,388.4 102.2,387.5 104.8,386.6 107.5,385.7 110.1,384.8 112.8,384.0 115.5,383.2 118.1,382.4 120.8,381.6 123.4,380.8 126.1,380.0 128.7,379.3 131.4,378.7 134.1,378.0 136.7,377.4 139.4,376.8 142.0,376.1 144.7,375.5 147.4,375.0 150.0,374.5 152.7,374.1 155.3,373.6 158.0,373.1 160.6,372.7 163.3,372.4 166.0,372.1 168.6,371.8 171.3,371.5 173.9,371.2 176.6,370.9 179.3,370.6 181.9,370.5 184.6,370.3 187.2,370.2 189.9,370.1 192.6,370.0 195.2,369.8 197.9,369.7 200.5,369.6 203.2,369.5 205.8,369.3 208.5,369.2 211.2,369.1 213.8,369.0 216.5,368.8 219.1,368.7 221.8,368.6 224.5,368.5 227.1,368.3 229.8,368.2 232.4,368.1 235.1,368.0 237.8,367.8 240.4,367.7 243.1,367.6 245.7,367.5 248.4,367.3 251.0,367.2 253.7,367.1 256.4,366.9 259.0,366.8 261.7,366.7 264.3,366.6 267.0,366.4"/>
<circle cx="54.30" cy="413.30" r="2.5" fill="#1a1a1a"/>
<circle cx="56.96" cy="410.45" r="2.5" fill="#1a1a1a"/>
<circle cx="59.62" cy="407.61" r="2.5" fill="#1a1a1a"/>
<circle cx="62.28" cy="405.04" r="2.5" fill="#1a1a1a"/>
<circle cx="64.94" cy="403.05" r="2.5" fill="#1a1a1a"/>
<circle cx="67.59" cy="401.05" r="2.5" fill="#1a1a1a"/>
<circle cx="70.25" cy="399.51" r="2.5" fill="#1a1a1a"/>
<circle cx="72.91" cy="398.46" r="2.5" fill="#1a1a1a"/>
<circle cx="75.57" cy="397.41" r="2.5" fill="#1a1a1a"/>
<circle cx="78.23" cy="396.36" r="2.5" fill="#1a1a1a"/>
<circle cx="80.89" cy="395.31" r="2.5" fill="#1a1a1a"/>
<circle cx="83.55" cy="394.26" r="2.5" fill="#1a1a1a"/>
<circle cx="86.20" cy="393.21" r="2.5" fill="#1a1a1a"/>
<circle cx="88.86" cy="392.20" r="2.5" fill="#1a1a1a"/>
<circle cx="91.52" cy="391.26" r="2.5" fill="#1a1a1a"/>
<circle cx="94.18" cy="390.32" r="2.5" fill="#1a1a1a"/>
<circle cx="96.84" cy="389.38" r="2.5" fill="#1a1a1a"/>
<circle cx="99.50" cy="388.45" r="2.5" fill="#1a1a1a"/>
<circle cx="102.16" cy="387.51" r="2.5" fill="#1a1a1a"/>
<circle cx="104.82" cy="386.57" r="2.5" fill="#1a1a1a"/>
<circle cx="107.47" cy="385.66" r="2.5" fill="#1a1a1a"/>
<circle cx="110.13" cy="384.84" r="2.5" fill="#1a1a1a"/>
<circle cx="112.79" cy="384.03" r="2.5" fill="#1a1a1a"/>
<circle cx="115.45" cy="383.22" r="2.5" fill="#1a1a1a"/>
<circle cx="118.11" cy="382.41" r="2.5" fill="#1a1a1a"/>
<circle cx="120.77" cy="381.60" r="2.5" fill="#1a1a1a"/>
<circle cx="123.43" cy="380.79" r="2.5" fill="#1a1a1a"/>
<circle cx="126.09" cy="379.98" r="2.5" fill="#1a1a1a"/>
<circle cx="128.75" cy="379.34" r="2.5" fill="#1a1a1a"/>
<circle cx="131.40" cy="378.69" r="2.5" fill="#1a1a1a"/>
<circle cx="134.06" cy="378.05" r="2.5" fill="#1a1a1a"/>
<circle cx="136.72" cy="377.40" r="2.5" fill="#1a1a1a"/>
<circle cx="139.38" cy="376.76" r="2.5" fill="#1a1a1a"/>
<circle cx="142.04" cy="376.12" r="2.5" fill="#1a1a1a"/>
<circle cx="144.70" cy="375.47" r="2.5" fill="#1a1a1a"/>
<circle cx="147.36" cy="374.99" r="2.5" fill="#1a1a1a"/>
<circle cx="150.01" cy="374.53" r="2.5" fill="#1a1a1a"/>
<circle cx="152.67" cy="374.07" r="2.5" fill="#1a1a1a"/>
<circle cx="155.33" cy="373.61" r="2.5" fill="#1a1a1a"/>
<circle cx="157.99" cy="373.15" r="2.5" fill="#1a1a1a"/>
<circle cx="160.65" cy="372.72" r="2.5" fill="#1a1a1a"/>
<circle cx="163.31" cy="372.42" r="2.5" fill="#1a1a1a"/>
<circle cx="165.97" cy="372.11" r="2.5" fill="#1a1a1a"/>
<circle cx="168.63" cy="371.80" r="2.5" fill="#1a1a1a"/>
<circle cx="171.28" cy="371.49" r="2.5" fill="#1a1a1a"/>
<circle cx="173.94" cy="371.19" r="2.5" fill="#1a1a1a"/>
<circle cx="176.60" cy="370.88" r="2.5" fill="#1a1a1a"/>
<circle cx="179.26" cy="370.59" r="2.5" fill="#1a1a1a"/>
<circle cx="181.92" cy="370.46" r="2.5" fill="#1a1a1a"/>
<circle cx="184.58" cy="370.34" r="2.5" fill="#1a1a1a"/>
<circle cx="187.24" cy="370.21" r="2.5" fill="#1a1a1a"/>
<circle cx="189.90" cy="370.09" r="2.5" fill="#1a1a1a"/>
<circle cx="192.56" cy="369.96" r="2.5" fill="#1a1a1a"/>
<circle cx="195.21" cy="369.83" r="2.5" fill="#1a1a1a"/>
<circle cx="197.87" cy="369.71" r="2.5" fill="#1a1a1a"/>
<circle cx="200.53" cy="369.58" r="2.5" fill="#1a1a1a"/>
<circle cx="203.19" cy="369.46" r="2.5" fill="#1a1a1a"/>
<circle cx="205.85" cy="369.33" r="2.5" fill="#1a1a1a"/>
<circle cx="208.51" cy="369.21" r="2.5" fill="#1a1a1a"/>
<circle cx="211.17" cy="369.08" r="2.5" fill="#1a1a1a"/>
<circle cx="213.82" cy="368.96" r="2.5" fill="#1a1a1a"/>
<circle cx="216.48" cy="368.83" r="2.5" fill="#1a1a1a"/>
<circle cx="219.14" cy="368.71" r="2.5" fill="#1a1a1a"/>
<circle cx="221.80" cy="368.58" r="2.5" fill="#1a1a1a"/>
<circle cx="224.46" cy="368.45" r="2.5" fill="#1a1a1a"/>
<circle cx="227.12" cy="368.33" r="2.5" fill="#1a1a1a"/>
<circle cx="229.78" cy="368.20" r="2.5" fill="#1a1a1a"/>
<circle cx="232.44" cy="368.08" r="2.5" fill="#1a1a1a"/>
<circle cx="235.09" cy="367.95" r="2.5" fill="#1a1a1a"/>
<circle cx="237.75" cy="367.83" r="2.5" fill="#1a1a1a"/>
<circle cx="240.41" cy="367.70" r="2.5" fill="#1a1a1a"/>
<circle cx="243.07" cy="367.58" r="2.5" fill="#1a1a1a"/>
<circle cx="245.73" cy="367.45" r="2.5" fill="#1a1a1a"/>
<circle cx="248.39" cy="367.33" r="2.5" fill="#1a1a1a"/>
<circle cx="251.05" cy="367.20" r="2.5" fill="#1a1a1a"/>
<circle cx="253.71" cy="367.07" r="2.5" fill="#1a1a1a"/>
<circle cx="256.37" cy="366.95" r="2.5" fill="#1a1a1a"/>
<circle cx="259.02" cy="366.82" r="2.5" fill="#1a1a1a"/>
<circle cx="261.68" cy="366.70" r="2.5" fill="#1a1a1a"/>
<circle cx="264.34" cy="366.57" r="2.5" fill="#1a1a1a"/>
<circle cx="267.00" cy="366.45" r="2.5" fill="#1a1a1a"/>
<line x1="101.40" y1="501.30" x2="101.40" y2="646.60" stroke="#3a3a3a" stroke-width="1"/>
<line x1="97.90" y1="501.30" x2="101.40" y2="501.30" stroke="#3a3a3a" stroke-width="1"/>
<text x="96.4" y="505.2" font-size="11" text-anchor="end" font-weight="normal" fill="#231f20" >30</text>
<line x1="97.90" y1="550.00" x2="101.40" y2="550.00" stroke="#3a3a3a" stroke-width="1"/>
<text x="96.4" y="553.9" font-size="11" text-anchor="end" font-weight="normal" fill="#231f20" >20</text>
<line x1="97.90" y1="598.40" x2="101.40" y2="598.40" stroke="#3a3a3a" stroke-width="1"/>
<text x="96.4" y="602.3" font-size="11" text-anchor="end" font-weight="normal" fill="#231f20" >10</text>
<line x1="97.90" y1="646.60" x2="101.40" y2="646.60" stroke="#3a3a3a" stroke-width="1"/>
<text x="96.4" y="650.5" font-size="11" text-anchor="end" font-weight="normal" fill="#231f20" >0</text>
<line x1="107.60" y1="652.80" x2="343.40" y2="652.80" stroke="#3a3a3a" stroke-width="1"/>
<line x1="107.60" y1="652.80" x2="107.60" y2="655.40" stroke="#3a3a3a" stroke-width="1"/>
<text x="107.6" y="667.4" font-size="11" text-anchor="middle" font-weight="normal" fill="#231f20" >0</text>
<line x1="163.65" y1="652.80" x2="163.65" y2="655.40" stroke="#3a3a3a" stroke-width="1"/>
<text x="163.7" y="667.4" font-size="11" text-anchor="middle" font-weight="normal" fill="#231f20" >500</text>
<line x1="219.70" y1="652.80" x2="219.70" y2="655.40" stroke="#3a3a3a" stroke-width="1"/>
<text x="219.7" y="667.4" font-size="11" text-anchor="middle" font-weight="normal" fill="#231f20" >1,000</text>
<line x1="275.75" y1="652.80" x2="275.75" y2="655.40" stroke="#3a3a3a" stroke-width="1"/>
<text x="275.8" y="667.4" font-size="11" text-anchor="middle" font-weight="normal" fill="#231f20" >1,500</text>
<line x1="331.80" y1="652.80" x2="331.80" y2="655.40" stroke="#3a3a3a" stroke-width="1"/>
<text x="331.8" y="667.4" font-size="11" text-anchor="middle" font-weight="normal" fill="#231f20" >2,000</text>
<text x="225.5" y="683.0" font-size="11.2" text-anchor="middle" font-weight="normal" fill="#231f20" >Time (msec)</text>
<text transform="translate(78.6,627) rotate(-90)" font-size="11" fill="#231f20">Cumulative area (pC)</text>
<circle cx="132.6" cy="513.9" r="2.4" fill="#111"/>
<circle cx="132.6" cy="529.7" r="2.4" fill="#999"/>
<text x="139.6" y="517.9" font-size="11" text-anchor="start" font-weight="normal" fill="#231f20" >WT</text>
<text x="139.6" y="533.2" font-size="11" text-anchor="start" font-weight="normal" fill="#231f20" >KO</text>
<line x1="112.40" y1="600.60" x2="172.00" y2="584.50" stroke="#8a8a8a" stroke-width="1"/>
<path d="M110.40 631.65V634.24M109.10 631.65h2.60M109.10 634.24h2.60M113.20 627.64V631.81M111.91 627.64h2.60M111.91 631.81h2.60M116.01 623.67V629.41M114.71 623.67h2.60M114.71 629.41h2.60M118.81 619.69V627.02M117.51 619.69h2.60M117.51 627.02h2.60M121.61 616.20V624.79M120.31 616.20h2.60M120.31 624.79h2.60M124.41 613.08V622.67M123.11 613.08h2.60M123.11 622.67h2.60M127.22 609.96V620.56M125.92 609.96h2.60M125.92 620.56h2.60M130.02 606.84V618.45M128.72 606.84h2.60M128.72 618.45h2.60M132.82 603.72V616.34M131.52 603.72h2.60M131.52 616.34h2.60M135.62 600.97V614.45M134.32 600.97h2.60M134.32 614.45h2.60M138.43 599.48V613.32M137.13 599.48h2.60M137.13 613.32h2.60M141.23 597.99V612.19M139.93 597.99h2.60M139.93 612.19h2.60M144.03 596.50V611.07M142.73 596.50h2.60M142.73 611.07h2.60M146.83 595.01V609.94M145.53 595.01h2.60M145.53 609.94h2.60M149.64 593.53V608.81M148.34 593.53h2.60M148.34 608.81h2.60M152.44 591.71V607.36M151.14 591.71h2.60M151.14 607.36h2.60M155.24 589.85V605.86M153.94 589.85h2.60M153.94 605.86h2.60M158.05 587.99V604.36M156.75 587.99h2.60M156.75 604.36h2.60M160.85 586.13V602.86M159.55 586.13h2.60M159.55 602.86h2.60M163.65 584.26V601.36M162.35 584.26h2.60M162.35 601.36h2.60M166.45 582.69V600.15M165.15 582.69h2.60M165.15 600.15h2.60M169.25 581.39V599.21M167.95 581.39h2.60M167.95 599.21h2.60M172.06 580.09V598.27M170.76 580.09h2.60M170.76 598.27h2.60M174.86 578.79V597.32M173.56 578.79h2.60M173.56 597.32h2.60M177.66 577.49V596.38M176.36 577.49h2.60M176.36 596.38h2.60M180.47 576.26V595.49M179.16 576.26h2.60M179.16 595.49h2.60M183.27 575.40V594.85M181.97 575.40h2.60M181.97 594.85h2.60M186.07 574.55V594.21M184.77 574.55h2.60M184.77 594.21h2.60M188.87 573.70V593.57M187.57 573.70h2.60M187.57 593.57h2.60M191.68 572.84V592.93M190.38 572.84h2.60M190.38 592.93h2.60M194.48 571.99V592.29M193.18 571.99h2.60M193.18 592.29h2.60M197.28 570.60V591.12M195.98 570.60h2.60M195.98 591.12h2.60M200.08 569.10V589.82M198.78 569.10h2.60M198.78 589.82h2.60M202.88 567.59V588.53M201.58 567.59h2.60M201.58 588.53h2.60M205.69 566.24V587.39M204.39 566.24h2.60M204.39 587.39h2.60M208.49 565.36V586.73M207.19 565.36h2.60M207.19 586.73h2.60M211.29 564.49V586.07M209.99 564.49h2.60M209.99 586.07h2.60M214.09 563.62V585.41M212.79 563.62h2.60M212.79 585.41h2.60M216.90 562.75V584.75M215.60 562.75h2.60M215.60 584.75h2.60M219.70 561.87V584.09M218.40 561.87h2.60M218.40 584.09h2.60M222.50 561.00V583.43M221.20 561.00h2.60M221.20 583.43h2.60M225.31 560.13V582.77M224.00 560.13h2.60M224.00 582.77h2.60M228.11 559.26V582.11M226.81 559.26h2.60M226.81 582.11h2.60M230.91 558.39V581.45M229.61 558.39h2.60M229.61 581.45h2.60M233.71 557.53V580.78M232.41 557.53h2.60M232.41 580.78h2.60M236.52 556.49V579.94M235.22 556.49h2.60M235.22 579.94h2.60M239.32 555.31V578.95M238.02 555.31h2.60M238.02 578.95h2.60M242.12 554.13V577.96M240.82 554.13h2.60M240.82 577.96h2.60M244.92 552.96V576.97M243.62 552.96h2.60M243.62 576.97h2.60M247.72 551.78V575.98M246.42 551.78h2.60M246.42 575.98h2.60M250.53 550.60V575.00M249.23 550.60h2.60M249.23 575.00h2.60M253.33 549.43V574.02M252.03 549.43h2.60M252.03 574.02h2.60M256.13 548.26V573.04M254.83 548.26h2.60M254.83 573.04h2.60M258.94 547.09V572.06M257.63 547.09h2.60M257.63 572.06h2.60M261.74 545.92V571.08M260.44 545.92h2.60M260.44 571.08h2.60M264.54 544.75V570.10M263.24 544.75h2.60M263.24 570.10h2.60M267.34 543.58V569.12M266.04 543.58h2.60M266.04 569.12h2.60M270.14 542.41V568.14M268.84 542.41h2.60M268.84 568.14h2.60M272.95 541.24V567.16M271.65 541.24h2.60M271.65 567.16h2.60M275.75 540.07V566.18M274.45 540.07h2.60M274.45 566.18h2.60M278.55 538.90V565.21M277.25 538.90h2.60M277.25 565.21h2.60M281.36 537.91V564.43M280.06 537.91h2.60M280.06 564.43h2.60M284.16 537.12V563.88M282.86 537.12h2.60M282.86 563.88h2.60M286.96 536.32V563.33M285.66 536.32h2.60M285.66 563.33h2.60M289.76 535.52V562.79M288.46 535.52h2.60M288.46 562.79h2.60M292.56 534.72V562.24M291.26 534.72h2.60M291.26 562.24h2.60M295.37 533.93V561.69M294.07 533.93h2.60M294.07 561.69h2.60M298.17 533.13V561.14M296.87 533.13h2.60M296.87 561.14h2.60M300.97 532.33V560.59M299.67 532.33h2.60M299.67 560.59h2.60M303.78 531.53V560.04M302.48 531.53h2.60M302.48 560.04h2.60M306.58 530.74V559.49M305.28 530.74h2.60M305.28 559.49h2.60M309.38 529.94V558.94M308.08 529.94h2.60M308.08 558.94h2.60M312.18 529.14V558.39M310.88 529.14h2.60M310.88 558.39h2.60M314.99 528.34V557.84M313.69 528.34h2.60M313.69 557.84h2.60M317.79 527.55V557.29M316.49 527.55h2.60M316.49 557.29h2.60M320.59 526.75V556.74M319.29 526.75h2.60M319.29 556.74h2.60M323.39 525.95V556.19M322.09 525.95h2.60M322.09 556.19h2.60M326.20 525.15V555.64M324.90 525.15h2.60M324.90 555.64h2.60M329.00 524.35V555.09M327.70 524.35h2.60M327.70 555.09h2.60M331.80 523.56V554.54M330.50 523.56h2.60M330.50 554.54h2.60" stroke="#8c8c8c" stroke-width="1.0" fill="none"/>
<polyline fill="none" stroke="#9a9a9a" stroke-width="1" points="107.6,637.1 110.4,632.9 113.2,629.7 116.0,626.5 118.8,623.4 121.6,620.5 124.4,617.9 127.2,615.3 130.0,612.6 132.8,610.0 135.6,607.7 138.4,606.4 141.2,605.1 144.0,603.8 146.8,602.5 149.6,601.2 152.4,599.5 155.2,597.9 158.0,596.2 160.8,594.5 163.6,592.8 166.5,591.4 169.3,590.3 172.1,589.2 174.9,588.1 177.7,586.9 180.5,585.9 183.3,585.1 186.1,584.4 188.9,583.6 191.7,582.9 194.5,582.1 197.3,580.9 200.1,579.5 202.9,578.1 205.7,576.8 208.5,576.0 211.3,575.3 214.1,574.5 216.9,573.7 219.7,573.0 222.5,572.2 225.3,571.4 228.1,570.7 230.9,569.9 233.7,569.2 236.5,568.2 239.3,567.1 242.1,566.0 244.9,565.0 247.7,563.9 250.5,562.8 253.3,561.7 256.1,560.6 258.9,559.6 261.7,558.5 264.5,557.4 267.3,556.4 270.1,555.3 272.9,554.2 275.8,553.1 278.6,552.1 281.4,551.2 284.2,550.5 287.0,549.8 289.8,549.2 292.6,548.5 295.4,547.8 298.2,547.1 301.0,546.5 303.8,545.8 306.6,545.1 309.4,544.4 312.2,543.8 315.0,543.1 317.8,542.4 320.6,541.7 323.4,541.1 326.2,540.4 329.0,539.7 331.8,539.0"/>
<circle cx="107.60" cy="637.10" r="2.6" fill="#9a9a9a"/>
<circle cx="110.40" cy="632.94" r="2.6" fill="#9a9a9a"/>
<circle cx="113.20" cy="629.72" r="2.6" fill="#9a9a9a"/>
<circle cx="116.01" cy="626.54" r="2.6" fill="#9a9a9a"/>
<circle cx="118.81" cy="623.35" r="2.6" fill="#9a9a9a"/>
<circle cx="121.61" cy="620.50" r="2.6" fill="#9a9a9a"/>
<circle cx="124.41" cy="617.88" r="2.6" fill="#9a9a9a"/>
<circle cx="127.22" cy="615.26" r="2.6" fill="#9a9a9a"/>
<circle cx="130.02" cy="612.65" r="2.6" fill="#9a9a9a"/>
<circle cx="132.82" cy="610.03" r="2.6" fill="#9a9a9a"/>
<circle cx="135.62" cy="607.71" r="2.6" fill="#9a9a9a"/>
<circle cx="138.43" cy="606.40" r="2.6" fill="#9a9a9a"/>
<circle cx="141.23" cy="605.09" r="2.6" fill="#9a9a9a"/>
<circle cx="144.03" cy="603.78" r="2.6" fill="#9a9a9a"/>
<circle cx="146.83" cy="602.48" r="2.6" fill="#9a9a9a"/>
<circle cx="149.64" cy="601.17" r="2.6" fill="#9a9a9a"/>
<circle cx="152.44" cy="599.54" r="2.6" fill="#9a9a9a"/>
<circle cx="155.24" cy="597.85" r="2.6" fill="#9a9a9a"/>
<circle cx="158.05" cy="596.17" r="2.6" fill="#9a9a9a"/>
<circle cx="160.85" cy="594.49" r="2.6" fill="#9a9a9a"/>
<circle cx="163.65" cy="592.81" r="2.6" fill="#9a9a9a"/>
<circle cx="166.45" cy="591.42" r="2.6" fill="#9a9a9a"/>
<circle cx="169.25" cy="590.30" r="2.6" fill="#9a9a9a"/>
<circle cx="172.06" cy="589.18" r="2.6" fill="#9a9a9a"/>
<circle cx="174.86" cy="588.06" r="2.6" fill="#9a9a9a"/>
<circle cx="177.66" cy="586.93" r="2.6" fill="#9a9a9a"/>
<circle cx="180.47" cy="585.88" r="2.6" fill="#9a9a9a"/>
<circle cx="183.27" cy="585.13" r="2.6" fill="#9a9a9a"/>
<circle cx="186.07" cy="584.38" r="2.6" fill="#9a9a9a"/>
<circle cx="188.87" cy="583.63" r="2.6" fill="#9a9a9a"/>
<circle cx="191.68" cy="582.89" r="2.6" fill="#9a9a9a"/>
<circle cx="194.48" cy="582.14" r="2.6" fill="#9a9a9a"/>
<circle cx="197.28" cy="580.86" r="2.6" fill="#9a9a9a"/>
<circle cx="200.08" cy="579.46" r="2.6" fill="#9a9a9a"/>
<circle cx="202.88" cy="578.06" r="2.6" fill="#9a9a9a"/>
<circle cx="205.69" cy="576.81" r="2.6" fill="#9a9a9a"/>
<circle cx="208.49" cy="576.05" r="2.6" fill="#9a9a9a"/>
<circle cx="211.29" cy="575.28" r="2.6" fill="#9a9a9a"/>
<circle cx="214.09" cy="574.51" r="2.6" fill="#9a9a9a"/>
<circle cx="216.90" cy="573.75" r="2.6" fill="#9a9a9a"/>
<circle cx="219.70" cy="572.98" r="2.6" fill="#9a9a9a"/>
<circle cx="222.50" cy="572.22" r="2.6" fill="#9a9a9a"/>
<circle cx="225.31" cy="571.45" r="2.6" fill="#9a9a9a"/>
<circle cx="228.11" cy="570.68" r="2.6" fill="#9a9a9a"/>
<circle cx="230.91" cy="569.92" r="2.6" fill="#9a9a9a"/>
<circle cx="233.71" cy="569.15" r="2.6" fill="#9a9a9a"/>
<circle cx="236.52" cy="568.21" r="2.6" fill="#9a9a9a"/>
<circle cx="239.32" cy="567.13" r="2.6" fill="#9a9a9a"/>
<circle cx="242.12" cy="566.05" r="2.6" fill="#9a9a9a"/>
<circle cx="244.92" cy="564.96" r="2.6" fill="#9a9a9a"/>
<circle cx="247.72" cy="563.88" r="2.6" fill="#9a9a9a"/>
<circle cx="250.53" cy="562.80" r="2.6" fill="#9a9a9a"/>
<circle cx="253.33" cy="561.72" r="2.6" fill="#9a9a9a"/>
<circle cx="256.13" cy="560.65" r="2.6" fill="#9a9a9a"/>
<circle cx="258.94" cy="559.57" r="2.6" fill="#9a9a9a"/>
<circle cx="261.74" cy="558.50" r="2.6" fill="#9a9a9a"/>
<circle cx="264.54" cy="557.43" r="2.6" fill="#9a9a9a"/>
<circle cx="267.34" cy="556.35" r="2.6" fill="#9a9a9a"/>
<circle cx="270.14" cy="555.28" r="2.6" fill="#9a9a9a"/>
<circle cx="272.95" cy="554.20" r="2.6" fill="#9a9a9a"/>
<circle cx="275.75" cy="553.13" r="2.6" fill="#9a9a9a"/>
<circle cx="278.55" cy="552.05" r="2.6" fill="#9a9a9a"/>
<circle cx="281.36" cy="551.17" r="2.6" fill="#9a9a9a"/>
<circle cx="284.16" cy="550.50" r="2.6" fill="#9a9a9a"/>
<circle cx="286.96" cy="549.83" r="2.6" fill="#9a9a9a"/>
<circle cx="289.76" cy="549.15" r="2.6" fill="#9a9a9a"/>
<circle cx="292.56" cy="548.48" r="2.6" fill="#9a9a9a"/>
<circle cx="295.37" cy="547.81" r="2.6" fill="#9a9a9a"/>
<circle cx="298.17" cy="547.13" r="2.6" fill="#9a9a9a"/>
<circle cx="300.97" cy="546.46" r="2.6" fill="#9a9a9a"/>
<circle cx="303.78" cy="545.78" r="2.6" fill="#9a9a9a"/>
<circle cx="306.58" cy="545.11" r="2.6" fill="#9a9a9a"/>
<circle cx="309.38" cy="544.44" r="2.6" fill="#9a9a9a"/>
<circle cx="312.18" cy="543.76" r="2.6" fill="#9a9a9a"/>
<circle cx="314.99" cy="543.09" r="2.6" fill="#9a9a9a"/>
<circle cx="317.79" cy="542.42" r="2.6" fill="#9a9a9a"/>
<circle cx="320.59" cy="541.74" r="2.6" fill="#9a9a9a"/>
<circle cx="323.39" cy="541.07" r="2.6" fill="#9a9a9a"/>
<circle cx="326.20" cy="540.40" r="2.6" fill="#9a9a9a"/>
<circle cx="329.00" cy="539.72" r="2.6" fill="#9a9a9a"/>
<circle cx="331.80" cy="539.05" r="2.6" fill="#9a9a9a"/>
<line x1="112.40" y1="605.30" x2="155.00" y2="597.20" stroke="#222" stroke-width="1"/>
<path d="M110.40 636.23V638.14M109.10 636.23h2.60M109.10 638.14h2.60M113.20 633.12V635.93M111.91 633.12h2.60M111.91 635.93h2.60M116.01 630.18V633.89M114.71 630.18h2.60M114.71 633.89h2.60M118.81 627.25V631.86M117.51 627.25h2.60M117.51 631.86h2.60M121.61 624.75V629.99M120.31 624.75h2.60M120.31 629.99h2.60M124.41 622.58V628.24M123.11 622.58h2.60M123.11 628.24h2.60M127.22 620.41V626.49M125.92 620.41h2.60M125.92 626.49h2.60M130.02 618.23V624.74M128.72 618.23h2.60M128.72 624.74h2.60M132.82 616.06V622.99M131.52 616.06h2.60M131.52 622.99h2.60M135.62 614.02V621.36M134.32 614.02h2.60M134.32 621.36h2.60M138.43 612.40V620.17M137.13 612.40h2.60M137.13 620.17h2.60M141.23 610.87V618.90M139.93 610.87h2.60M139.93 618.90h2.60M144.03 609.43V617.53M142.73 609.43h2.60M142.73 617.53h2.60M146.83 608.00V616.17M145.53 608.00h2.60M145.53 616.17h2.60M149.64 606.56V614.80M148.34 606.56h2.60M148.34 614.80h2.60M152.44 605.04V613.35M151.14 605.04h2.60M151.14 613.35h2.60M155.24 603.51V611.89M153.94 603.51h2.60M153.94 611.89h2.60M158.05 601.98V610.43M156.75 601.98h2.60M156.75 610.43h2.60M160.85 600.45V608.98M159.55 600.45h2.60M159.55 608.98h2.60M163.65 598.92V607.52M162.35 598.92h2.60M162.35 607.52h2.60M166.45 597.76V606.42M165.15 597.76h2.60M165.15 606.42h2.60M169.25 596.94V605.67M167.95 596.94h2.60M167.95 605.67h2.60M172.06 596.12V604.92M170.76 596.12h2.60M170.76 604.92h2.60M174.86 595.30V604.17M173.56 595.30h2.60M173.56 604.17h2.60M177.66 594.48V603.43M176.36 594.48h2.60M176.36 603.43h2.60M180.47 593.67V602.70M179.16 593.67h2.60M179.16 602.70h2.60M183.27 592.87V602.07M181.97 592.87h2.60M181.97 602.07h2.60M186.07 592.08V601.44M184.77 592.08h2.60M184.77 601.44h2.60M188.87 591.29V600.82M187.57 591.29h2.60M187.57 600.82h2.60M191.68 590.49V600.19M190.38 590.49h2.60M190.38 600.19h2.60M194.48 589.70V599.57M193.18 589.70h2.60M193.18 599.57h2.60M197.28 588.65V598.68M195.98 588.65h2.60M195.98 598.68h2.60M200.08 587.53V597.74M198.78 587.53h2.60M198.78 597.74h2.60M202.88 586.42V596.80M201.58 586.42h2.60M201.58 596.80h2.60M205.69 585.31V595.85M204.39 585.31h2.60M204.39 595.85h2.60M208.49 584.20V594.91M207.19 584.20h2.60M207.19 594.91h2.60M211.29 583.22V594.10M209.99 583.22h2.60M209.99 594.10h2.60M214.09 582.40V593.44M212.79 582.40h2.60M212.79 593.44h2.60M216.90 581.57V592.79M215.60 581.57h2.60M215.60 592.79h2.60M219.70 580.75V592.13M218.40 580.75h2.60M218.40 592.13h2.60M222.50 579.92V591.47M221.20 579.92h2.60M221.20 591.47h2.60M225.31 579.10V590.82M224.00 579.10h2.60M224.00 590.82h2.60M228.11 578.28V590.16M226.81 578.28h2.60M226.81 590.16h2.60M230.91 577.44V589.52M229.61 577.44h2.60M229.61 589.52h2.60M233.71 576.59V588.89M232.41 576.59h2.60M232.41 588.89h2.60M236.52 575.80V588.32M235.22 575.80h2.60M235.22 588.32h2.60M239.32 575.05V587.79M238.02 575.05h2.60M238.02 587.79h2.60M242.12 574.30V587.27M240.82 574.30h2.60M240.82 587.27h2.60M244.92 573.55V586.75M243.62 573.55h2.60M243.62 586.75h2.60M247.72 572.81V586.22M246.42 572.81h2.60M246.42 586.22h2.60M250.53 572.05V585.69M249.23 572.05h2.60M249.23 585.69h2.60M253.33 571.23V585.10M252.03 571.23h2.60M252.03 585.10h2.60M256.13 570.42V584.51M254.83 570.42h2.60M254.83 584.51h2.60M258.94 569.61V583.92M257.63 569.61h2.60M257.63 583.92h2.60M261.74 568.80V583.34M260.44 568.80h2.60M260.44 583.34h2.60M264.54 567.98V582.75M263.24 567.98h2.60M263.24 582.75h2.60M267.34 567.17V582.16M266.04 567.17h2.60M266.04 582.16h2.60M270.14 566.36V581.57M268.84 566.36h2.60M268.84 581.57h2.60M272.95 565.55V580.98M271.65 565.55h2.60M271.65 580.98h2.60M275.75 564.73V580.39M274.45 564.73h2.60M274.45 580.39h2.60M278.55 563.92V579.80M277.25 563.92h2.60M277.25 579.80h2.60M281.36 563.21V579.33M280.06 563.21h2.60M280.06 579.33h2.60M284.16 562.60V578.96M282.86 562.60h2.60M282.86 578.96h2.60M286.96 561.99V578.60M285.66 561.99h2.60M285.66 578.60h2.60M289.76 561.38V578.24M288.46 561.38h2.60M288.46 578.24h2.60M292.56 560.77V577.88M291.26 560.77h2.60M291.26 577.88h2.60M295.37 560.16V577.52M294.07 560.16h2.60M294.07 577.52h2.60M298.17 559.55V577.16M296.87 559.55h2.60M296.87 577.16h2.60M300.97 558.94V576.80M299.67 558.94h2.60M299.67 576.80h2.60M303.78 558.33V576.44M302.48 558.33h2.60M302.48 576.44h2.60M306.58 557.72V576.08M305.28 557.72h2.60M305.28 576.08h2.60M309.38 557.12V575.71M308.08 557.12h2.60M308.08 575.71h2.60M312.18 556.51V575.35M310.88 556.51h2.60M310.88 575.35h2.60M314.99 555.90V574.99M313.69 555.90h2.60M313.69 574.99h2.60M317.79 555.29V574.63M316.49 555.29h2.60M316.49 574.63h2.60M320.59 554.68V574.27M319.29 554.68h2.60M319.29 574.27h2.60M323.39 554.07V573.91M322.09 554.07h2.60M322.09 573.91h2.60M326.20 553.46V573.55M324.90 553.46h2.60M324.90 573.55h2.60M329.00 552.85V573.19M327.70 552.85h2.60M327.70 573.19h2.60M331.80 552.24V572.83M330.50 552.24h2.60M330.50 572.83h2.60" stroke="#1a1a1a" stroke-width="0.8" fill="none"/>
<polyline fill="none" stroke="#1a1a1a" stroke-width="1" points="107.6,640.3 110.4,637.2 113.2,634.5 116.0,632.0 118.8,629.6 121.6,627.4 124.4,625.4 127.2,623.4 130.0,621.5 132.8,619.5 135.6,617.7 138.4,616.3 141.2,614.9 144.0,613.5 146.8,612.1 149.6,610.7 152.4,609.2 155.2,607.7 158.0,606.2 160.8,604.7 163.6,603.2 166.5,602.1 169.3,601.3 172.1,600.5 174.9,599.7 177.7,599.0 180.5,598.2 183.3,597.5 186.1,596.8 188.9,596.1 191.7,595.3 194.5,594.6 197.3,593.7 200.1,592.6 202.9,591.6 205.7,590.6 208.5,589.6 211.3,588.7 214.1,587.9 216.9,587.2 219.7,586.4 222.5,585.7 225.3,585.0 228.1,584.2 230.9,583.5 233.7,582.7 236.5,582.1 239.3,581.4 242.1,580.8 244.9,580.2 247.7,579.5 250.5,578.9 253.3,578.2 256.1,577.5 258.9,576.8 261.7,576.1 264.5,575.4 267.3,574.7 270.1,574.0 272.9,573.3 275.8,572.6 278.6,571.9 281.4,571.3 284.2,570.8 287.0,570.3 289.8,569.8 292.6,569.3 295.4,568.8 298.2,568.4 301.0,567.9 303.8,567.4 306.6,566.9 309.4,566.4 312.2,565.9 315.0,565.4 317.8,565.0 320.6,564.5 323.4,564.0 326.2,563.5 329.0,563.0 331.8,562.5"/>
<circle cx="107.60" cy="640.30" r="2.5" fill="#1a1a1a"/>
<circle cx="110.40" cy="637.19" r="2.5" fill="#1a1a1a"/>
<circle cx="113.20" cy="634.52" r="2.5" fill="#1a1a1a"/>
<circle cx="116.01" cy="632.04" r="2.5" fill="#1a1a1a"/>
<circle cx="118.81" cy="629.55" r="2.5" fill="#1a1a1a"/>
<circle cx="121.61" cy="627.37" r="2.5" fill="#1a1a1a"/>
<circle cx="124.41" cy="625.41" r="2.5" fill="#1a1a1a"/>
<circle cx="127.22" cy="623.45" r="2.5" fill="#1a1a1a"/>
<circle cx="130.02" cy="621.49" r="2.5" fill="#1a1a1a"/>
<circle cx="132.82" cy="619.52" r="2.5" fill="#1a1a1a"/>
<circle cx="135.62" cy="617.69" r="2.5" fill="#1a1a1a"/>
<circle cx="138.43" cy="616.29" r="2.5" fill="#1a1a1a"/>
<circle cx="141.23" cy="614.88" r="2.5" fill="#1a1a1a"/>
<circle cx="144.03" cy="613.48" r="2.5" fill="#1a1a1a"/>
<circle cx="146.83" cy="612.08" r="2.5" fill="#1a1a1a"/>
<circle cx="149.64" cy="610.68" r="2.5" fill="#1a1a1a"/>
<circle cx="152.44" cy="609.20" r="2.5" fill="#1a1a1a"/>
<circle cx="155.24" cy="607.70" r="2.5" fill="#1a1a1a"/>
<circle cx="158.05" cy="606.21" r="2.5" fill="#1a1a1a"/>
<circle cx="160.85" cy="604.71" r="2.5" fill="#1a1a1a"/>
<circle cx="163.65" cy="603.22" r="2.5" fill="#1a1a1a"/>
<circle cx="166.45" cy="602.09" r="2.5" fill="#1a1a1a"/>
<circle cx="169.25" cy="601.31" r="2.5" fill="#1a1a1a"/>
<circle cx="172.06" cy="600.52" r="2.5" fill="#1a1a1a"/>
<circle cx="174.86" cy="599.74" r="2.5" fill="#1a1a1a"/>
<circle cx="177.66" cy="598.95" r="2.5" fill="#1a1a1a"/>
<circle cx="180.47" cy="598.18" r="2.5" fill="#1a1a1a"/>
<circle cx="183.27" cy="597.47" r="2.5" fill="#1a1a1a"/>
<circle cx="186.07" cy="596.76" r="2.5" fill="#1a1a1a"/>
<circle cx="188.87" cy="596.05" r="2.5" fill="#1a1a1a"/>
<circle cx="191.68" cy="595.34" r="2.5" fill="#1a1a1a"/>
<circle cx="194.48" cy="594.63" r="2.5" fill="#1a1a1a"/>
<circle cx="197.28" cy="593.66" r="2.5" fill="#1a1a1a"/>
<circle cx="200.08" cy="592.64" r="2.5" fill="#1a1a1a"/>
<circle cx="202.88" cy="591.61" r="2.5" fill="#1a1a1a"/>
<circle cx="205.69" cy="590.58" r="2.5" fill="#1a1a1a"/>
<circle cx="208.49" cy="589.55" r="2.5" fill="#1a1a1a"/>
<circle cx="211.29" cy="588.66" r="2.5" fill="#1a1a1a"/>
<circle cx="214.09" cy="587.92" r="2.5" fill="#1a1a1a"/>
<circle cx="216.90" cy="587.18" r="2.5" fill="#1a1a1a"/>
<circle cx="219.70" cy="586.44" r="2.5" fill="#1a1a1a"/>
<circle cx="222.50" cy="585.70" r="2.5" fill="#1a1a1a"/>
<circle cx="225.31" cy="584.96" r="2.5" fill="#1a1a1a"/>
<circle cx="228.11" cy="584.22" r="2.5" fill="#1a1a1a"/>
<circle cx="230.91" cy="583.48" r="2.5" fill="#1a1a1a"/>
<circle cx="233.71" cy="582.74" r="2.5" fill="#1a1a1a"/>
<circle cx="236.52" cy="582.06" r="2.5" fill="#1a1a1a"/>
<circle cx="239.32" cy="581.42" r="2.5" fill="#1a1a1a"/>
<circle cx="242.12" cy="580.79" r="2.5" fill="#1a1a1a"/>
<circle cx="244.92" cy="580.15" r="2.5" fill="#1a1a1a"/>
<circle cx="247.72" cy="579.52" r="2.5" fill="#1a1a1a"/>
<circle cx="250.53" cy="578.87" r="2.5" fill="#1a1a1a"/>
<circle cx="253.33" cy="578.17" r="2.5" fill="#1a1a1a"/>
<circle cx="256.13" cy="577.47" r="2.5" fill="#1a1a1a"/>
<circle cx="258.94" cy="576.77" r="2.5" fill="#1a1a1a"/>
<circle cx="261.74" cy="576.07" r="2.5" fill="#1a1a1a"/>
<circle cx="264.54" cy="575.37" r="2.5" fill="#1a1a1a"/>
<circle cx="267.34" cy="574.66" r="2.5" fill="#1a1a1a"/>
<circle cx="270.14" cy="573.96" r="2.5" fill="#1a1a1a"/>
<circle cx="272.95" cy="573.26" r="2.5" fill="#1a1a1a"/>
<circle cx="275.75" cy="572.56" r="2.5" fill="#1a1a1a"/>
<circle cx="278.55" cy="571.86" r="2.5" fill="#1a1a1a"/>
<circle cx="281.36" cy="571.27" r="2.5" fill="#1a1a1a"/>
<circle cx="284.16" cy="570.78" r="2.5" fill="#1a1a1a"/>
<circle cx="286.96" cy="570.30" r="2.5" fill="#1a1a1a"/>
<circle cx="289.76" cy="569.81" r="2.5" fill="#1a1a1a"/>
<circle cx="292.56" cy="569.33" r="2.5" fill="#1a1a1a"/>
<circle cx="295.37" cy="568.84" r="2.5" fill="#1a1a1a"/>
<circle cx="298.17" cy="568.36" r="2.5" fill="#1a1a1a"/>
<circle cx="300.97" cy="567.87" r="2.5" fill="#1a1a1a"/>
<circle cx="303.78" cy="567.39" r="2.5" fill="#1a1a1a"/>
<circle cx="306.58" cy="566.90" r="2.5" fill="#1a1a1a"/>
<circle cx="309.38" cy="566.41" r="2.5" fill="#1a1a1a"/>
<circle cx="312.18" cy="565.93" r="2.5" fill="#1a1a1a"/>
<circle cx="314.99" cy="565.44" r="2.5" fill="#1a1a1a"/>
<circle cx="317.79" cy="564.96" r="2.5" fill="#1a1a1a"/>
<circle cx="320.59" cy="564.47" r="2.5" fill="#1a1a1a"/>
<circle cx="323.39" cy="563.99" r="2.5" fill="#1a1a1a"/>
<circle cx="326.20" cy="563.50" r="2.5" fill="#1a1a1a"/>
<circle cx="329.00" cy="563.02" r="2.5" fill="#1a1a1a"/>
<circle cx="331.80" cy="562.53" r="2.5" fill="#1a1a1a"/>
<text x="160.2" y="21.6" font-size="11.1" text-anchor="middle" font-weight="normal" fill="#231f20" >2 s at 40 Hz</text>
<path d="M38.20 29.1V37.9M41.53 29.1V37.9M44.86 29.1V37.9M48.20 29.1V37.9M51.53 29.1V37.9M54.86 29.1V37.9M58.19 29.1V37.9M61.52 29.1V37.9M64.86 29.1V37.9M68.19 29.1V37.9M71.52 29.1V37.9M74.85 29.1V37.9M78.18 29.1V37.9M81.52 29.1V37.9M84.85 29.1V37.9M88.18 29.1V37.9M91.51 29.1V37.9M94.84 29.1V37.9M98.18 29.1V37.9M101.51 29.1V37.9M104.84 29.1V37.9M108.17 29.1V37.9M111.50 29.1V37.9M114.84 29.1V37.9M118.17 29.1V37.9M121.50 29.1V37.9M124.83 29.1V37.9M128.16 29.1V37.9M131.50 29.1V37.9M134.83 29.1V37.9M138.16 29.1V37.9M141.49 29.1V37.9M144.82 29.1V37.9M148.16 29.1V37.9M151.49 29.1V37.9M154.82 29.1V37.9M158.15 29.1V37.9M161.48 29.1V37.9M164.82 29.1V37.9M168.15 29.1V37.9M171.48 29.1V37.9M174.81 29.1V37.9M178.14 29.1V37.9M181.48 29.1V37.9M184.81 29.1V37.9M188.14 29.1V37.9M191.47 29.1V37.9M194.80 29.1V37.9M198.14 29.1V37.9M201.47 29.1V37.9M204.80 29.1V37.9M208.13 29.1V37.9M211.46 29.1V37.9M214.80 29.1V37.9M218.13 29.1V37.9M221.46 29.1V37.9M224.79 29.1V37.9M228.12 29.1V37.9M231.46 29.1V37.9M234.79 29.1V37.9M238.12 29.1V37.9M241.45 29.1V37.9M244.78 29.1V37.9M248.12 29.1V37.9M251.45 29.1V37.9M254.78 29.1V37.9M258.11 29.1V37.9M261.44 29.1V37.9M264.78 29.1V37.9M268.11 29.1V37.9M271.44 29.1V37.9M274.77 29.1V37.9M278.10 29.1V37.9M281.44 29.1V37.9M284.77 29.1V37.9M288.10 29.1V37.9M291.43 29.1V37.9M294.76 29.1V37.9M298.10 29.1V37.9M301.43 29.1V37.9" stroke="#3c3c3c" stroke-width="1" fill="none"/>
<polyline fill="none" stroke="#1c1c1c" stroke-width="1.10" stroke-linejoin="round" points="33.50,51.50 35.00,51.80 35.50,49.80 35.80,53.50 36.50,51.70 37.80,51.70 37.80,63.87 38.10,89.22 38.50,76.07 38.90,69.90 39.30,67.55 39.80,62.31 40.30,68.75 40.70,63.10 41.21,65.31 41.51,90.03 41.91,78.93 42.31,70.08 42.71,70.70 43.21,64.19 43.71,69.45 44.11,66.48 44.62,67.53 44.92,87.23 45.32,73.82 45.72,73.00 46.12,71.76 46.62,66.90 47.12,68.99 47.52,68.70 48.03,68.95 48.33,85.61 48.73,77.52 49.13,74.39 49.53,71.95 50.03,69.92 50.53,71.27 50.93,70.35 51.44,71.92 51.74,84.06 52.14,76.35 52.54,76.04 52.94,74.14 53.44,72.32 53.94,73.10 54.34,71.94 54.85,72.72 55.15,86.89 55.55,79.46 55.95,77.27 56.35,76.14 56.85,74.09 57.35,75.99 57.75,74.29 58.26,75.40 58.56,87.52 58.96,82.54 59.36,79.29 59.76,78.04 60.26,76.08 60.76,76.29 61.16,76.46 61.67,77.01 61.97,94.60 62.37,87.51 62.77,78.36 63.17,81.49 63.67,76.72 64.17,78.53 64.57,76.35 65.08,79.19 65.38,99.09 65.78,85.43 66.18,84.47 66.58,82.63 67.08,80.40 67.58,83.71 67.98,79.20 68.49,81.44 68.79,98.51 69.19,86.72 69.59,83.31 69.99,84.56 70.49,81.79 70.99,82.90 71.39,79.98 71.90,82.83 72.20,97.00 72.60,90.90 73.00,85.15 73.40,85.54 73.90,82.90 74.40,85.42 74.80,83.14 75.31,83.56 75.61,99.80 76.01,90.90 76.41,86.47 76.81,87.51 77.31,82.72 77.81,85.36 78.21,85.09 78.72,84.92 79.02,103.93 79.42,93.93 79.82,85.99 80.22,89.09 80.72,85.34 81.22,86.37 81.62,85.33 82.13,86.25 82.43,102.58 82.83,94.61 83.23,90.68 83.63,87.98 84.13,84.84 84.63,89.26 85.03,87.73 85.54,87.35 85.84,102.50 86.24,93.35 86.64,89.76 87.04,89.78 87.54,86.93 88.04,89.93 88.44,86.71 88.95,89.33 89.25,108.75 89.65,99.44 90.05,92.11 90.45,92.33 90.95,90.30 91.45,91.41 91.85,88.33 92.36,91.15 92.66,108.61 93.06,98.13 93.46,96.39 93.86,94.44 94.36,92.28 94.86,92.71 95.26,90.62 95.77,93.24 96.07,107.62 96.47,98.53 96.87,94.48 97.27,96.21 97.77,92.25 98.27,96.38 98.67,94.33 99.18,93.37 99.48,105.90 99.88,99.54 100.28,97.03 100.68,95.38 101.18,92.19 101.68,94.59 102.08,94.31 102.59,94.83 102.89,107.54 103.29,100.25 103.69,97.03 104.09,98.72 104.59,93.73 105.09,95.15 105.49,96.25 106.00,97.55 106.30,112.05 106.70,106.03 107.10,102.31 107.50,99.56 108.00,98.33 108.50,100.80 108.90,98.07 109.41,98.58 109.71,110.92 110.11,103.12 110.51,99.45 110.91,101.33 111.41,97.90 111.91,101.42 112.31,97.12 112.82,101.67 113.12,115.73 113.52,109.67 113.92,106.17 114.32,104.73 114.82,100.11 115.32,104.57 115.72,100.62 116.23,102.39 116.53,118.37 116.93,109.17 117.33,107.69 117.73,105.95 118.23,101.89 118.73,104.00 119.13,103.55 119.64,104.49 119.94,120.68 120.34,110.31 120.74,107.90 121.14,108.74 121.64,103.44 122.14,107.85 122.54,105.84 123.05,106.42 123.35,125.34 123.75,116.99 124.15,107.65 124.55,109.47 125.05,105.68 125.55,109.34 125.95,106.17 126.46,106.75 126.76,123.96 127.16,112.57 127.56,108.26 127.96,108.81 128.46,108.27 128.96,110.47 129.36,105.43 129.87,107.96 130.17,120.06 130.57,112.87 130.97,110.91 131.37,110.66 131.87,107.52 132.37,108.79 132.77,107.41 133.28,107.64 133.58,121.82 133.98,113.52 134.38,108.69 134.78,109.45 135.28,107.24 135.78,110.10 136.18,108.55 136.69,108.83 136.99,123.62 137.39,115.18 137.79,111.22 138.19,111.77 138.69,109.48 139.19,110.79 139.59,109.45 140.10,109.59 140.40,121.41 140.80,115.60 141.20,110.43 141.60,111.71 142.10,109.35 142.60,112.58 143.00,110.99 143.51,110.25 143.81,125.40 144.21,115.99 144.61,113.12 145.01,112.07 145.51,111.25 146.01,113.04 146.41,111.49 146.92,112.49 147.22,125.18 147.62,118.44 148.02,113.52 148.42,115.31 148.92,110.91 149.42,113.25 149.82,113.37 150.33,111.94 150.63,127.87 151.03,117.57 151.43,112.84 151.83,116.22 152.33,110.72 152.83,115.43 153.23,112.49 153.74,114.93 154.04,128.45 154.44,122.22 154.84,115.75 155.24,118.49 155.74,114.97 156.24,117.65 156.64,113.67 157.15,115.29 157.45,132.18 157.85,123.22 158.25,120.33 158.65,117.84 159.15,114.26 159.65,117.02 160.05,115.66 160.56,115.87 160.86,127.36 161.26,120.68 161.66,117.65 162.06,117.90 162.56,114.53 163.06,117.59 163.46,117.38 163.97,115.62 164.27,129.98 164.67,122.90 165.07,119.59 165.47,119.05 165.97,115.67 166.47,117.72 166.87,116.08 167.38,117.15 167.68,131.69 168.08,125.51 168.48,120.13 168.88,119.88 169.38,117.85 169.88,118.33 170.28,116.41 170.79,115.76 171.09,129.91 171.49,120.99 171.89,119.40 172.29,120.04 172.79,115.11 173.29,118.54 173.69,115.48 174.20,117.62 174.50,130.19 174.90,122.21 175.30,118.33 175.70,120.06 176.20,117.24 176.70,118.45 177.10,117.17 177.61,116.61 177.91,131.39 178.31,125.44 178.71,119.47 179.11,119.88 179.61,116.50 180.11,119.90 180.51,117.64 181.02,117.36 181.32,130.03 181.72,124.42 182.12,119.52 182.52,120.64 183.02,118.83 183.52,119.16 183.92,116.50 184.43,116.78 184.73,131.32 185.13,125.32 185.53,121.23 185.93,118.86 186.43,115.78 186.93,118.19 187.33,115.78 187.84,118.09 188.14,132.13 188.54,123.38 188.94,122.44 189.34,120.30 189.84,117.85 190.34,120.93 190.74,116.77 191.25,116.81 191.55,132.11 191.95,123.04 192.35,120.24 192.75,120.44 193.25,115.24 193.75,118.58 194.15,116.61 194.66,117.95 194.96,129.10 195.36,124.49 195.76,119.81 196.16,120.32 196.66,116.73 197.16,118.90 197.56,118.48 198.07,117.24 198.37,132.59 198.77,122.29 199.17,122.34 199.57,119.91 200.07,118.11 200.57,120.37 200.97,116.59 201.48,118.78 201.78,131.53 202.18,123.62 202.58,122.30 202.98,122.81 203.48,119.34 203.98,120.81 204.38,117.54 204.89,118.53 205.19,130.13 205.59,124.37 205.99,121.08 206.39,119.84 206.89,119.00 207.39,120.69 207.79,117.51 208.30,119.67 208.60,131.75 209.00,126.67 209.40,120.79 209.80,121.55 210.30,120.38 210.80,121.80 211.20,119.85 211.71,119.28 212.01,130.87 212.41,123.37 212.81,120.10 213.21,122.29 213.71,120.10 214.21,121.16 214.61,120.05 215.12,118.78 215.42,130.02 215.82,125.09 216.22,119.48 216.62,121.04 217.12,117.97 217.62,121.33 218.02,118.31 218.53,118.91 218.83,130.81 219.23,125.23 219.63,120.76 220.03,122.40 220.53,117.66 221.03,119.96 221.43,117.62 221.94,118.57 222.24,132.79 222.64,123.62 223.04,120.09 223.44,121.15 223.94,119.35 224.44,121.71 224.84,119.36 225.35,119.90 225.65,129.72 226.05,123.42 226.45,121.95 226.85,122.08 227.35,118.95 227.85,120.58 228.25,120.80 228.76,118.74 229.06,133.09 229.46,127.13 229.86,121.11 230.26,121.78 230.76,119.01 231.26,121.32 231.66,120.27 232.17,120.50 232.47,130.66 232.87,125.02 233.27,122.84 233.67,123.26 234.17,118.91 234.67,122.89 235.07,121.02 235.58,120.22 235.88,131.87 236.28,124.39 236.68,122.65 237.08,121.07 237.58,120.22 238.08,122.43 238.48,120.04 238.99,120.58 239.29,134.14 239.69,125.20 240.09,124.48 240.49,123.69 240.99,119.14 241.49,122.17 241.89,119.73 242.40,119.60 242.70,132.13 243.10,124.57 243.50,123.49 243.90,122.72 244.40,118.43 244.90,122.62 245.30,119.92 245.81,121.82 246.11,133.10 246.51,126.37 246.91,125.11 247.31,125.46 247.81,122.98 248.31,123.31 248.71,122.64 249.22,120.94 249.52,132.39 249.92,125.07 250.32,122.07 250.72,123.22 251.22,121.58 251.72,122.78 252.12,120.69 252.63,121.52 252.93,131.22 253.33,126.64 253.73,123.18 254.13,122.44 254.63,122.80 255.13,123.68 255.53,121.10 256.04,121.04 256.34,132.43 256.74,125.22 257.14,121.62 257.54,122.39 258.04,121.95 258.54,121.61 258.94,120.91 259.45,120.80 259.75,130.92 260.15,125.07 260.55,121.82 260.95,121.32 261.45,119.56 261.95,121.26 262.35,120.77 262.86,120.66 263.16,130.08 263.56,124.64 263.96,123.12 264.36,121.11 264.86,120.35 265.36,121.75 265.76,119.15 266.27,123.02 266.57,134.57 266.97,127.06 267.37,125.76 267.77,124.84 268.27,121.82 268.77,123.32 269.17,123.75 269.68,121.52 269.98,134.04 270.38,128.78 270.78,123.28 271.18,123.22 271.68,120.77 272.18,124.41 272.58,121.93 273.09,121.81 273.39,130.57 273.79,126.99 274.19,123.81 274.59,121.98 275.09,120.31 275.59,121.82 275.99,120.76 276.50,121.20 276.80,130.37 277.20,126.43 277.60,122.21 278.00,124.55 278.50,121.12 279.00,123.54 279.40,122.53 279.91,123.49 280.21,130.27 280.61,126.76 281.01,125.75 281.41,123.53 281.91,122.83 282.41,125.63 282.81,122.26 283.32,122.29 283.62,131.77 284.02,127.78 284.42,123.26 284.82,124.96 285.32,123.04 285.82,124.79 286.22,122.46 286.73,123.70 287.03,131.91 287.43,126.73 287.83,126.03 288.23,125.28 288.73,122.96 289.23,123.87 289.63,124.40 290.14,123.06 290.44,133.65 290.84,127.79 291.24,124.08 291.64,125.85 292.14,121.53 292.64,124.54 293.04,123.89 293.55,123.35 293.85,130.59 294.25,127.35 294.65,125.11 295.05,126.01 295.55,124.55 296.05,124.28 296.45,124.62 296.96,123.61 297.26,131.77 297.66,126.24 298.06,125.00 298.46,126.70 298.96,122.35 299.46,125.06 299.86,122.36 300.37,122.17 300.67,133.35 301.07,125.69 301.47,123.24 301.87,124.87 302.37,122.45 302.87,122.28 303.27,121.31 303.78,124.32 304.08,131.20 304.48,127.25 304.88,126.28 305.28,126.03 305.78,125.25 306.28,125.47 306.68,123.32 307.19,122.43 307.49,130.50 307.89,125.12 308.29,122.89 308.69,125.53 309.19,121.46 309.69,124.90 310.09,121.10 307.30,126.00 308.00,138.00 309.00,131.00 312.00,127.00 316.00,123.00 319.00,121.00 322.00,117.00 325.00,116.00 327.00,114.00 330.00,112.50"/>
<polyline fill="none" stroke="#8c8c8c" stroke-width="1.25" stroke-linejoin="round" points="33.50,160.00 34.50,158.50 35.50,161.00 36.50,159.50 37.80,160.00 37.80,196.86 38.10,228.93 38.50,215.55 38.90,205.58 39.30,206.23 39.80,193.56 40.30,201.43 40.70,199.96 41.12,197.28 41.42,232.91 41.82,210.60 42.22,204.87 42.62,204.92 43.12,193.87 43.62,200.64 44.02,195.73 44.44,199.52 44.74,227.31 45.14,214.50 45.54,202.07 45.94,205.90 46.44,196.91 46.94,200.20 47.34,202.12 47.76,194.94 48.06,221.80 48.46,210.03 48.86,198.61 49.26,203.54 49.76,195.21 50.26,200.21 50.66,192.87 51.08,200.60 51.38,226.04 51.78,215.05 52.18,204.15 52.58,204.72 53.08,198.26 53.58,201.94 53.98,197.56 54.40,196.68 54.70,229.93 55.10,210.02 55.50,201.43 55.90,205.56 56.40,196.54 56.90,200.37 57.30,196.54 57.72,200.05 58.02,222.08 58.42,206.81 58.82,206.11 59.22,206.87 59.72,196.68 60.22,205.37 60.62,199.12 61.04,199.90 61.34,224.96 61.74,214.60 62.14,202.63 62.54,206.70 63.04,202.90 63.54,206.75 63.94,198.81 64.36,199.44 64.66,227.65 65.06,208.82 65.46,207.18 65.86,207.16 66.36,201.95 66.86,200.43 67.26,202.56 67.68,198.70 67.98,227.29 68.38,215.15 68.78,203.04 69.18,207.39 69.68,199.01 70.18,201.67 70.58,197.42 71.00,200.41 71.30,226.29 71.70,213.53 72.10,209.44 72.50,203.22 73.00,197.25 73.50,207.70 73.90,200.64 74.32,202.91 74.62,227.69 75.02,216.49 75.42,207.54 75.82,207.32 76.32,199.80 76.82,209.54 77.22,199.64 77.64,204.34 77.94,232.19 78.34,218.81 78.74,213.67 79.14,210.82 79.64,206.36 80.14,205.76 80.54,203.88 80.96,202.74 81.26,231.94 81.66,215.47 82.06,212.96 82.46,211.05 82.96,206.08 83.46,206.80 83.86,202.66 84.28,206.91 84.58,229.05 84.98,216.23 85.38,208.99 85.78,210.48 86.28,210.33 86.78,213.45 87.18,207.80 87.60,204.28 87.90,231.29 88.30,218.72 88.70,212.66 89.10,208.71 89.60,206.28 90.10,210.25 90.50,205.64 90.92,204.41 91.22,232.40 91.62,218.72 92.02,208.16 92.42,209.90 92.92,206.29 93.42,209.94 93.82,202.96 94.24,205.35 94.54,232.07 94.94,213.46 95.34,211.07 95.74,208.95 96.24,206.55 96.74,209.10 97.14,207.57 97.56,203.03 97.86,231.46 98.26,217.05 98.66,210.75 99.06,211.02 99.56,201.98 100.06,209.70 100.46,205.62 100.88,203.32 101.18,230.40 101.58,215.65 101.98,208.97 102.38,206.40 102.88,205.67 103.38,210.44 103.78,203.16 104.20,203.34 104.50,225.86 104.90,211.26 105.30,209.74 105.70,208.41 106.20,204.50 106.70,206.16 107.10,204.21 107.52,203.66 107.82,222.76 108.22,209.55 108.62,205.53 109.02,207.07 109.52,204.71 110.02,204.56 110.42,204.96 110.84,200.96 111.14,215.89 111.54,206.45 111.94,201.95 112.34,201.38 112.84,199.68 113.34,200.97 113.74,198.81 114.16,195.10 114.46,217.17 114.86,205.77 115.26,200.11 115.66,197.68 116.16,197.93 116.66,194.92 117.06,194.44 117.48,195.11 117.78,219.11 118.18,205.00 118.58,196.57 118.98,200.71 119.48,192.28 119.98,199.03 120.38,193.99 120.80,195.87 121.10,218.43 121.50,205.48 121.90,202.50 122.30,201.38 122.80,194.96 123.30,196.75 123.70,196.54 124.12,194.45 124.42,218.15 124.82,205.89 125.22,198.13 125.62,201.94 126.12,190.96 126.62,195.26 127.02,194.91 127.44,193.51 127.74,211.34 128.14,203.63 128.54,196.41 128.94,196.60 129.44,191.59 129.94,194.72 130.34,196.82 130.76,190.71 131.06,217.31 131.46,203.45 131.86,194.12 132.26,199.40 132.76,190.69 133.26,194.11 133.66,189.45 134.08,194.31 134.38,211.89 134.78,202.10 135.18,195.83 135.58,198.68 136.08,193.91 136.58,195.50 136.98,196.28 137.40,192.57 137.70,206.41 138.10,197.86 138.50,197.14 138.90,197.31 139.40,190.79 139.90,193.02 140.30,190.15 140.72,193.07 141.02,206.99 141.42,199.22 141.82,196.46 142.22,196.58 142.72,194.77 143.22,192.48 143.62,194.89 144.04,187.13 144.34,206.97 144.74,194.85 145.14,191.28 145.54,190.85 146.04,186.16 146.54,191.82 146.94,187.77 147.36,183.86 147.66,202.61 148.06,194.64 148.46,189.79 148.86,187.93 149.36,180.47 149.86,188.63 150.26,183.36 150.68,186.22 150.98,204.14 151.38,194.19 151.78,192.02 152.18,189.00 152.68,185.46 153.18,191.37 153.58,184.10 154.00,183.08 154.30,207.98 154.70,195.74 155.10,187.56 155.50,186.57 156.00,185.05 156.50,189.69 156.90,180.58 157.32,183.72 157.62,200.67 158.02,190.49 158.42,185.35 158.82,187.71 159.32,185.90 159.82,183.24 160.22,181.83 160.64,185.47 160.94,202.06 161.34,190.58 161.74,189.90 162.14,192.14 162.64,188.96 163.14,189.37 163.54,182.32 163.96,184.99 164.26,196.93 164.66,191.98 165.06,188.14 165.46,184.82 165.96,183.54 166.46,189.71 166.86,182.54 167.28,182.28 167.58,198.25 167.98,190.06 168.38,183.29 168.78,182.73 169.28,181.44 169.78,181.68 170.18,179.18 170.60,180.73 170.90,200.80 171.30,187.56 171.70,184.34 172.10,183.45 172.60,181.43 173.10,183.67 173.50,183.80 173.92,178.03 174.22,195.22 174.62,183.96 175.02,182.14 175.42,181.51 175.92,180.90 176.42,180.99 176.82,178.87 177.24,175.99 177.54,199.04 177.94,188.10 178.34,180.72 178.74,178.03 179.24,174.13 179.74,178.54 180.14,177.64 180.56,174.62 180.86,199.37 181.26,182.68 181.66,180.82 182.06,176.71 182.56,171.99 183.06,178.99 183.46,172.79 183.88,178.72 184.18,196.54 184.58,188.33 184.98,179.77 185.38,183.86 185.88,175.60 186.38,178.95 186.78,181.89 187.20,176.57 187.50,198.43 187.90,187.49 188.30,183.05 188.70,178.42 189.20,177.45 189.70,178.83 190.10,174.72 190.52,173.36 190.82,195.67 191.22,182.63 191.62,175.39 192.02,180.14 192.52,174.39 193.02,178.84 193.42,172.89 193.84,176.21 194.14,193.93 194.54,184.57 194.94,181.03 195.34,179.02 195.84,173.39 196.34,175.60 196.74,174.12 197.16,169.74 197.46,195.94 197.86,183.58 198.26,171.06 198.66,174.77 199.16,172.47 199.66,174.51 200.06,169.24 200.48,172.01 200.78,188.75 201.18,177.83 201.58,174.73 201.98,174.56 202.48,174.67 202.98,172.09 203.38,170.29 203.80,170.36 204.10,188.94 204.50,177.25 204.90,173.98 205.30,170.80 205.80,173.33 206.30,172.23 206.70,173.43 207.12,172.90 207.42,192.74 207.82,184.48 208.22,174.60 208.62,178.05 209.12,171.44 209.62,177.10 210.02,174.51 210.44,168.90 210.74,191.34 211.14,176.16 211.54,172.72 211.94,176.70 212.44,167.95 212.94,170.95 213.34,168.67 213.76,169.41 214.06,192.59 214.46,177.50 214.86,172.24 215.26,175.25 215.76,172.49 216.26,173.91 216.66,168.92 217.08,173.92 217.38,190.82 217.78,181.07 218.18,174.99 218.58,177.64 219.08,177.35 219.58,176.59 219.98,172.87 220.40,167.42 220.70,186.69 221.10,176.04 221.50,173.79 221.90,168.15 222.40,165.62 222.90,167.16 223.30,166.70 223.72,166.85 224.02,187.86 224.42,175.08 224.82,168.22 225.22,167.81 225.72,170.15 226.22,167.76 226.62,166.91 227.04,168.91 227.34,192.69 227.74,176.82 228.14,173.97 228.54,176.62 229.04,169.60 229.54,174.98 229.94,166.91 230.36,165.89 230.66,189.48 231.06,177.01 231.46,169.73 231.86,171.48 232.36,167.47 232.86,172.32 233.26,164.54 233.68,168.58 233.98,191.44 234.38,176.23 234.78,171.86 235.18,170.26 235.68,170.48 236.18,174.24 236.58,167.27 237.00,166.01 237.30,185.16 237.70,172.24 238.10,169.43 238.50,170.38 239.00,164.23 239.50,165.81 239.90,167.41 240.32,165.10 240.62,185.77 241.02,173.62 241.42,166.75 241.82,168.68 242.32,163.80 242.82,169.97 243.22,165.50 243.64,170.71 243.94,189.07 244.34,179.38 244.74,174.06 245.14,176.60 245.64,171.80 246.14,176.65 246.54,172.30 246.96,169.01 247.26,185.65 247.66,175.91 248.06,170.49 248.46,169.30 248.96,166.70 249.46,169.85 249.86,170.24 250.28,165.78 250.58,183.69 250.98,174.15 251.38,166.83 251.78,166.22 252.28,163.19 252.78,167.47 253.18,168.30 253.60,170.25 253.90,187.92 254.30,177.82 254.70,173.05 255.10,172.60 255.60,166.84 256.10,173.49 256.50,172.54 256.92,168.51 257.22,183.62 257.62,173.82 258.02,172.48 258.42,171.16 258.92,171.58 259.42,172.84 259.82,165.84 260.24,165.46 260.54,190.01 260.94,176.02 261.34,169.94 261.74,172.25 262.24,168.52 262.74,169.37 263.14,168.75 263.56,167.24 263.86,183.35 264.26,174.10 264.66,168.30 265.06,173.81 265.56,163.97 266.06,170.19 266.46,167.11 266.88,169.06 267.18,185.50 267.58,175.36 267.98,170.87 268.38,172.78 268.88,168.06 269.38,173.28 269.78,167.25 270.20,165.17 270.50,184.18 270.90,175.66 271.30,170.96 271.70,169.80 272.20,164.47 272.70,165.52 273.10,167.49 273.52,165.96 273.82,182.33 274.22,171.35 274.62,170.30 275.02,172.03 275.52,163.85 276.02,170.49 276.42,164.73 276.84,167.16 277.14,189.03 277.54,178.97 277.94,170.72 278.34,168.10 278.84,167.24 279.34,171.04 279.74,164.95 280.16,164.96 280.46,187.74 280.86,174.41 281.26,169.35 281.66,170.94 282.16,164.25 282.66,171.75 283.06,167.16 283.48,168.56 283.78,187.95 284.18,177.50 284.58,174.17 284.98,171.47 285.48,169.21 285.98,172.72 286.38,168.71 286.80,163.93 287.10,186.25 287.50,174.51 287.90,170.13 288.30,169.90 288.80,162.58 289.30,170.28 289.70,162.35 290.12,166.81 290.42,183.28 290.82,175.06 291.22,172.36 291.62,172.88 292.12,168.13 292.62,171.65 293.02,168.48 293.44,165.93 293.74,184.52 294.14,176.50 294.54,168.19 294.94,172.97 295.44,166.24 295.94,167.97 296.34,162.45 296.76,164.24 297.06,184.41 297.46,175.74 297.86,170.76 298.26,169.07 298.76,163.45 299.26,164.53 299.66,165.56 300.08,165.37 300.38,188.72 300.78,178.59 301.18,168.03 301.58,168.68 302.08,163.75 302.58,169.73 302.98,168.15 303.00,170.00 305.00,166.00 307.00,172.00 310.00,165.00 312.00,167.00 314.00,163.00 317.00,164.00 320.00,160.00 322.00,161.00 324.00,158.60 327.00,160.50 329.00,161.00 331.00,162.00"/>
<line x1="292.00" y1="203.00" x2="292.00" y2="222.40" stroke="#222" stroke-width="1.2"/>
<line x1="240.00" y1="222.40" x2="292.60" y2="222.40" stroke="#222" stroke-width="1.2"/>
<text x="296.2" y="217.8" font-size="11" text-anchor="start" font-weight="normal" fill="#231f20" >50 pA</text>
<text x="264.8" y="234.8" font-size="11" text-anchor="middle" font-weight="normal" fill="#231f20" >0.5 s</text>
<text x="118.4" y="742.7" font-size="11" text-anchor="middle" font-weight="normal" fill="#231f20" >WT</text>
<text x="294.0" y="742.7" font-size="11" text-anchor="middle" font-weight="normal" fill="#231f20" >KO</text>
<line x1="37.80" y1="881.90" x2="64.50" y2="881.90" stroke="#222" stroke-width="2.2"/>
<defs>
<clipPath id="cw"><rect x="35.3" y="750.3" width="168.5" height="126.2"/></clipPath>
<clipPath id="ck"><rect x="210.6" y="749.1" width="168.2" height="126.4"/></clipPath>
<filter id="b2" x="-10%" y="-10%" width="120%" height="120%"><feGaussianBlur stdDeviation="2"/></filter>
<filter id="b1" x="-10%" y="-10%" width="120%" height="120%"><feGaussianBlur stdDeviation="0.7"/></filter>
<filter id="b4" x="-20%" y="-20%" width="140%" height="140%"><feGaussianBlur stdDeviation="4"/></filter>
<filter id="nz" x="0" y="0" width="100%" height="100%"><feTurbulence type="fractalNoise" baseFrequency="0.3" numOctaves="2" seed="3" result="t"/><feColorMatrix type="matrix" values="1.5 0 0 0 -0.25  1.5 0 0 0 -0.25  1.5 0 0 0 -0.25  0 0 0 0 1"/><feGaussianBlur stdDeviation="0.7"/></filter>
</defs>
<g clip-path="url(#cw)">
<rect x="35.30" y="750.30" width="168.50" height="126.20" fill="#cbcbcb" stroke="none" stroke-width="1"/>
<path filter="url(#b2)" d="M30 745 L70 745 L69.4 751.6 L56.3 771.3 L43.1 797.5 L35.3 813.3 L30 816 Z" fill="#aaaaaa"/>
<path filter="url(#b1)" d="M86 880 L91 873 L134.7 852.9 L164 831 L182.2 818.2 L202.3 807.3 L210 803 L210 832 L202.3 832.8 L189.5 842 L171.2 854.7 L143.9 869.3 L116.5 876.6 L110 880 Z" fill="#8c8c8c"/>
<path filter="url(#b1)" d="M86 878 L91 873 L134.7 852.9 L164 831 L182.2 818.2 L202.3 807.3 L210 803" fill="none" stroke="#777" stroke-width="1.6"/>
<path filter="url(#b2)" d="M56 880 L56.3 869.8 L80 860.2 L116.5 845.6 L149.3 827.4 L165.8 809 L171.2 800 L177.1 790 L187.6 775 L198.2 760 L202.1 752 L210 750 L210 803 L202.3 807.3 L182.2 818.2 L164 831 L134.7 852.9 L91 873 L86 880 Z" fill="#cbcbcb"/>
<path filter="url(#b2)" d="M110 880 L116.5 876.6 L143.9 869.3 L171.2 854.7 L189.5 842 L202.3 832.8 L210 832 L210 880 Z" fill="#d0d0d0"/>
<path filter="url(#b1)" d="M74.7 748 L61.5 773.9 L48.4 797.5 L39.2 818.6 L37.9 844.8 L41.8 863.2 L56.3 869.8 L82.5 865.9 L108.8 855.4 L135.1 844.8 L161.4 829.1 L177.1 810.7 L187.6 789.7 L198.2 771.3 L202.1 755.5 L204 748" fill="none" stroke="#999" stroke-width="1.6"/>
<path filter="url(#b1)" d="M69.4 748 L56.3 771.3 L43.1 797.5 L35.3 813.3" fill="none" stroke="#8e8e8e" stroke-width="1.4"/>
<path filter="url(#b1)" d="M60 874 L80 864 L116.5 849 L149.3 831 L165.8 813 L175 797 L186 780 L198 764 L206 752" fill="none" stroke="#a0a0a0" stroke-width="1.2"/>
<path filter="url(#b1)" d="M150 878 L180 864 L204 850" fill="none" stroke="#b0b0b0" stroke-width="1.1"/>
<g transform="translate(98.5,799) rotate(31)">
<ellipse cx="0" cy="0" rx="13" ry="33.5" fill="#b0b0b0" stroke="#737373" stroke-width="2.8" filter="url(#b1)"/>
<path d="M-8.0 -23.6Q-5.5 0 -7.5 24.4M-4.5 -28.1Q-2.0 0 -4.0 29.1M-1.0 -29.9Q1.5 0 -0.5 30.9M2.5 -29.4Q5.0 0 3.0 30.4M6.0 -26.6Q8.5 0 6.5 27.5M9.0 -21.6Q11.5 0 9.5 22.4" stroke="#d2d2d2" stroke-width="1.2" fill="none" filter="url(#b1)"/>
<path d="M-6.0 -25.7Q-4.0 0 -6.0 25.7M-2.5 -28.5Q-0.5 0 -2.5 28.5M1.0 -28.9Q3.0 0 1.0 28.9M4.5 -27.2Q6.5 0 4.5 27.2M8.0 -22.9Q10.0 0 8.0 22.9" stroke="#8e8e8e" stroke-width="1" fill="none" filter="url(#b1)"/>
</g>
<ellipse cx="184" cy="776" rx="14" ry="8" transform="rotate(-45 184 776)" fill="#979797" filter="url(#b2)"/>
<path filter="url(#b1)" d="M170 792 C176 780 186 768 200 756" fill="none" stroke="#7f7f7f" stroke-width="1.3"/>
<ellipse cx="196.5" cy="797" rx="6.5" ry="5.5" fill="none" stroke="#8c8c8c" stroke-width="1.4" filter="url(#b1)"/>
<ellipse cx="123" cy="759" rx="5.5" ry="9" fill="#c9c9c9" stroke="#a8a8a8" stroke-width="1.2" filter="url(#b1)"/>
<circle cx="74" cy="780" r="2.4" fill="#b9b9b9" stroke="#8a8a8a" stroke-width="1"/>
<circle cx="80" cy="779" r="2.4" fill="#b9b9b9" stroke="#8a8a8a" stroke-width="1"/>
<circle cx="66" cy="793" r="2.4" fill="#b9b9b9" stroke="#8a8a8a" stroke-width="1"/>
<circle cx="72" cy="796" r="2.4" fill="#b9b9b9" stroke="#8a8a8a" stroke-width="1"/>
<circle cx="61" cy="806" r="2.4" fill="#b9b9b9" stroke="#8a8a8a" stroke-width="1"/>
<circle cx="65" cy="818" r="2.4" fill="#b9b9b9" stroke="#8a8a8a" stroke-width="1"/>
<circle cx="73" cy="829" r="2.4" fill="#b9b9b9" stroke="#8a8a8a" stroke-width="1"/>
<circle cx="58" cy="840" r="2.4" fill="#b9b9b9" stroke="#8a8a8a" stroke-width="1"/>
<circle cx="68" cy="850" r="2.4" fill="#b9b9b9" stroke="#8a8a8a" stroke-width="1"/>
<circle cx="54" cy="858" r="2.4" fill="#b9b9b9" stroke="#8a8a8a" stroke-width="1"/>
<circle cx="77" cy="812" r="2.4" fill="#b9b9b9" stroke="#8a8a8a" stroke-width="1"/>
<circle cx="84" cy="845" r="2.4" fill="#b9b9b9" stroke="#8a8a8a" stroke-width="1"/>
<circle cx="62" cy="830" r="2.4" fill="#b9b9b9" stroke="#8a8a8a" stroke-width="1"/>
<circle cx="100" cy="829" r="2.4" fill="#b9b9b9" stroke="#8a8a8a" stroke-width="1"/>
<circle cx="108" cy="835" r="2.4" fill="#b9b9b9" stroke="#8a8a8a" stroke-width="1"/>
<circle cx="115" cy="832" r="2.4" fill="#b9b9b9" stroke="#8a8a8a" stroke-width="1"/>
<circle cx="121" cy="840" r="2.4" fill="#b9b9b9" stroke="#8a8a8a" stroke-width="1"/>
<circle cx="104" cy="842" r="2.4" fill="#b9b9b9" stroke="#8a8a8a" stroke-width="1"/>
<circle cx="95" cy="838" r="2.4" fill="#b9b9b9" stroke="#8a8a8a" stroke-width="1"/>
<circle cx="112" cy="825" r="2.4" fill="#b9b9b9" stroke="#8a8a8a" stroke-width="1"/>
<circle cx="127" cy="787" r="2.4" fill="#b9b9b9" stroke="#8a8a8a" stroke-width="1"/>
<circle cx="135" cy="790" r="2.4" fill="#b9b9b9" stroke="#8a8a8a" stroke-width="1"/>
<circle cx="142" cy="800" r="2.4" fill="#b9b9b9" stroke="#8a8a8a" stroke-width="1"/>
<circle cx="130" cy="808" r="2.4" fill="#b9b9b9" stroke="#8a8a8a" stroke-width="1"/>
<circle cx="140" cy="815" r="2.4" fill="#b9b9b9" stroke="#8a8a8a" stroke-width="1"/>
<circle cx="148" cy="822" r="2.4" fill="#b9b9b9" stroke="#8a8a8a" stroke-width="1"/>
<circle cx="150" cy="790" r="2.4" fill="#b9b9b9" stroke="#8a8a8a" stroke-width="1"/>
<circle cx="160" cy="800" r="2.4" fill="#b9b9b9" stroke="#8a8a8a" stroke-width="1"/>
<circle cx="155" cy="812" r="2.4" fill="#b9b9b9" stroke="#8a8a8a" stroke-width="1"/>
<circle cx="133" cy="824" r="2.4" fill="#b9b9b9" stroke="#8a8a8a" stroke-width="1"/>
<circle cx="125" cy="798" r="2.4" fill="#b9b9b9" stroke="#8a8a8a" stroke-width="1"/>
<circle cx="145" cy="778" r="2.4" fill="#b9b9b9" stroke="#8a8a8a" stroke-width="1"/>
<circle cx="138" cy="770" r="2.4" fill="#b9b9b9" stroke="#8a8a8a" stroke-width="1"/>
<circle cx="160" cy="772" r="2.4" fill="#b9b9b9" stroke="#8a8a8a" stroke-width="1"/>
<circle cx="152" cy="762" r="2.4" fill="#b9b9b9" stroke="#8a8a8a" stroke-width="1"/>
<path d="M101.5 816.6h1.4v1.4h-1.4zM160.5 806.2h1.4v1.4h-1.4zM108.5 819.6h1.4v1.4h-1.4zM68.1 811.3h1.4v1.4h-1.4zM123.7 842.2h1.4v1.4h-1.4zM56.8 788.4h1.4v1.4h-1.4zM56.3 844.1h1.4v1.4h-1.4zM131.7 759.6h1.4v1.4h-1.4zM167.8 861.1h1.4v1.4h-1.4zM126.7 822.7h1.4v1.4h-1.4zM64.7 756.7h1.4v1.4h-1.4zM111.0 761.6h1.4v1.4h-1.4zM68.8 781.6h1.4v1.4h-1.4zM48.8 806.0h1.4v1.4h-1.4zM100.1 847.7h1.4v1.4h-1.4zM109.9 825.4h1.4v1.4h-1.4zM107.5 827.9h1.4v1.4h-1.4zM102.2 785.6h1.4v1.4h-1.4zM169.7 864.5h1.4v1.4h-1.4zM150.0 832.9h1.4v1.4h-1.4zM84.4 780.3h1.4v1.4h-1.4zM81.1 762.7h1.4v1.4h-1.4zM140.8 799.0h1.4v1.4h-1.4zM150.8 797.5h1.4v1.4h-1.4zM164.8 848.2h1.4v1.4h-1.4zM45.1 778.1h1.4v1.4h-1.4zM158.8 806.7h1.4v1.4h-1.4zM167.5 798.7h1.4v1.4h-1.4zM54.1 824.2h1.4v1.4h-1.4zM142.3 784.7h1.4v1.4h-1.4zM55.9 791.6h1.4v1.4h-1.4zM165.5 838.4h1.4v1.4h-1.4zM59.7 782.1h1.4v1.4h-1.4zM57.6 761.6h1.4v1.4h-1.4zM144.6 774.5h1.4v1.4h-1.4zM114.9 804.2h1.4v1.4h-1.4zM68.8 835.5h1.4v1.4h-1.4zM61.4 825.8h1.4v1.4h-1.4zM59.6 801.3h1.4v1.4h-1.4zM71.6 784.7h1.4v1.4h-1.4zM166.4 843.4h1.4v1.4h-1.4zM83.0 852.3h1.4v1.4h-1.4zM71.3 798.4h1.4v1.4h-1.4zM151.8 825.6h1.4v1.4h-1.4zM57.5 863.8h1.4v1.4h-1.4z" fill="#2a2a2a"/>
<rect x="35" y="750" width="170" height="127" filter="url(#nz)" opacity="0.4" style="mix-blend-mode:overlay"/>
</g>
<g clip-path="url(#ck)">
<rect x="210.60" y="749.10" width="168.20" height="126.40" fill="#bebebe" stroke="none" stroke-width="1"/>
<path filter="url(#b4)" d="M222 745 L305 745 L302 772 L268 780 L240 776 L222 762 Z" fill="#a5a5a5"/>
<ellipse cx="238" cy="785" rx="28" ry="15" transform="rotate(-38 238 785)" fill="#8a8a8a" filter="url(#b4)"/>
<ellipse cx="235" cy="789" rx="15" ry="9" transform="rotate(-38 235 789)" fill="#7c7c7c" filter="url(#b2)"/>
<path filter="url(#b2)" d="M205 745 L216 745 L216 812 L212.9 831.7 L205 835 Z" fill="#bdbdbd"/>
<path filter="url(#b2)" d="M205 880 L205 835 L212.9 831.7 L228.6 812 L257.5 809.4 L266.7 821.2 L268 831.7 L262.8 844.8 L256.2 871 L256 880 Z" fill="#d5d5d5"/>
<path filter="url(#b1)" d="M208 834 L212.9 831.7 L228.6 812 L245 810 L257.5 809.4 L266.7 821.2 L268 831.7 L262.8 844.8 L256.2 871 L255 880" fill="none" stroke="#8e8e8e" stroke-width="1.5"/>
<path filter="url(#b1)" d="M210 829 L224 815 L244 806.5 L259 806 L270 818 L272 830 L266 846 L262 872" fill="none" stroke="#a0a0a0" stroke-width="1.1"/>
<path filter="url(#b2)" d="M247 832 L253 830 L254 862 L248 864 Z" fill="#a5a5a5"/>
<path filter="url(#b1)" d="M266 850 L270.7 848.8 L291.7 844.3 L336.4 844.3 L352 839.6 L373 843.5 L380 846" fill="none" stroke="#8a8a8a" stroke-width="1.6"/>
<path filter="url(#b1)" d="M268 853.5 L292 848.5 L336 848.5 L352 844 L380 850" fill="none" stroke="#a5a5a5" stroke-width="1.1"/>
<path filter="url(#b2)" d="M262 880 L268 854 L292 849 L336 849 L352 845 L380 851 L380 880 Z" fill="#d3d3d3"/>
<path filter="url(#b1)" d="M297 878 C305 866 318 856 336.4 851 C350 850 362 853 372 860 L380 866 L380 880 Z" fill="#929292" stroke="#767676" stroke-width="1.8"/>
<path filter="url(#b1)" d="M318 753 C314 770 322 786 340 789 C352 790 358 782 356 772 C354 762 344 756 332 752 Z" fill="#b3b3b3" stroke="#8f8f8f" stroke-width="1.3"/>
<path filter="url(#b1)" d="M347 748 C348 762 358 772 370 770 C376 766 377 756 376 748 Z" fill="#b5b5b5" stroke="#8f8f8f" stroke-width="1.3"/>
<path filter="url(#b1)" d="M310 760 C316 770 318 778 326 786 C330 792 330 800 336 806" fill="none" stroke="#999" stroke-width="1.2"/>
<path filter="url(#b1)" d="M344 790 C350 800 356 806 366 812 C372 818 376 826 380 832" fill="none" stroke="#999" stroke-width="1.2"/>
<path filter="url(#b2)" d="M364 772 L380 768 L380 838 L370 836 L366 810 Z" fill="#b8b8b8"/>
<ellipse cx="279" cy="763.5" rx="5" ry="4" fill="#c2c2c2" stroke="#8f8f8f" stroke-width="1.3" filter="url(#b1)"/>
<circle cx="295.6" cy="810.7" r="5.3" fill="#c8c8c8" stroke="#858585" stroke-width="1.3" filter="url(#b1)"/>
<circle cx="282" cy="823" r="2.3" fill="#b4b4b4" stroke="#888" stroke-width="1"/>
<circle cx="289" cy="829" r="2.3" fill="#b4b4b4" stroke="#888" stroke-width="1"/>
<circle cx="296" cy="822" r="2.3" fill="#b4b4b4" stroke="#888" stroke-width="1"/>
<circle cx="303" cy="830" r="2.3" fill="#b4b4b4" stroke="#888" stroke-width="1"/>
<circle cx="310" cy="826" r="2.3" fill="#b4b4b4" stroke="#888" stroke-width="1"/>
<circle cx="318" cy="831" r="2.3" fill="#b4b4b4" stroke="#888" stroke-width="1"/>
<circle cx="325" cy="824" r="2.3" fill="#b4b4b4" stroke="#888" stroke-width="1"/>
<circle cx="332" cy="829" r="2.3" fill="#b4b4b4" stroke="#888" stroke-width="1"/>
<circle cx="339" cy="834" r="2.3" fill="#b4b4b4" stroke="#888" stroke-width="1"/>
<circle cx="286" cy="837" r="2.3" fill="#b4b4b4" stroke="#888" stroke-width="1"/>
<circle cx="294" cy="838" r="2.3" fill="#b4b4b4" stroke="#888" stroke-width="1"/>
<circle cx="301" cy="840" r="2.3" fill="#b4b4b4" stroke="#888" stroke-width="1"/>
<circle cx="309" cy="836" r="2.3" fill="#b4b4b4" stroke="#888" stroke-width="1"/>
<circle cx="316" cy="840" r="2.3" fill="#b4b4b4" stroke="#888" stroke-width="1"/>
<circle cx="323" cy="838" r="2.3" fill="#b4b4b4" stroke="#888" stroke-width="1"/>
<circle cx="331" cy="837" r="2.3" fill="#b4b4b4" stroke="#888" stroke-width="1"/>
<circle cx="276" cy="831" r="2.3" fill="#b4b4b4" stroke="#888" stroke-width="1"/>
<circle cx="300" cy="815" r="2.3" fill="#b4b4b4" stroke="#888" stroke-width="1"/>
<circle cx="314" cy="817" r="2.3" fill="#b4b4b4" stroke="#888" stroke-width="1"/>
<circle cx="328" cy="815" r="2.3" fill="#b4b4b4" stroke="#888" stroke-width="1"/>
<circle cx="336" cy="820" r="2.3" fill="#b4b4b4" stroke="#888" stroke-width="1"/>
<circle cx="345" cy="830" r="2.3" fill="#b4b4b4" stroke="#888" stroke-width="1"/>
<circle cx="262" cy="800" r="2.3" fill="#b4b4b4" stroke="#888" stroke-width="1"/>
<circle cx="252" cy="797" r="2.3" fill="#b4b4b4" stroke="#888" stroke-width="1"/>
<circle cx="270" cy="792" r="2.3" fill="#b4b4b4" stroke="#888" stroke-width="1"/>
<path d="M250.4 776.0h1.4v1.4h-1.4zM335.4 782.6h1.4v1.4h-1.4zM263.0 758.8h1.4v1.4h-1.4zM231.7 806.2h1.4v1.4h-1.4zM254.9 807.9h1.4v1.4h-1.4zM274.5 794.1h1.4v1.4h-1.4zM363.8 797.0h1.4v1.4h-1.4zM305.3 832.6h1.4v1.4h-1.4zM245.8 766.3h1.4v1.4h-1.4zM356.1 828.1h1.4v1.4h-1.4zM255.9 769.7h1.4v1.4h-1.4zM330.4 839.5h1.4v1.4h-1.4zM247.9 840.4h1.4v1.4h-1.4zM352.1 808.1h1.4v1.4h-1.4zM282.1 761.7h1.4v1.4h-1.4zM223.9 841.5h1.4v1.4h-1.4zM254.2 817.5h1.4v1.4h-1.4zM257.1 828.6h1.4v1.4h-1.4zM308.7 779.3h1.4v1.4h-1.4zM244.7 819.0h1.4v1.4h-1.4zM228.5 773.2h1.4v1.4h-1.4zM303.0 831.3h1.4v1.4h-1.4zM311.4 778.1h1.4v1.4h-1.4zM357.4 771.0h1.4v1.4h-1.4zM220.5 777.0h1.4v1.4h-1.4zM285.7 757.6h1.4v1.4h-1.4zM244.8 786.3h1.4v1.4h-1.4zM305.0 764.2h1.4v1.4h-1.4zM273.0 834.9h1.4v1.4h-1.4zM367.0 813.1h1.4v1.4h-1.4zM323.1 806.4h1.4v1.4h-1.4zM239.3 755.3h1.4v1.4h-1.4zM220.7 836.6h1.4v1.4h-1.4zM324.5 841.5h1.4v1.4h-1.4zM221.2 811.2h1.4v1.4h-1.4zM291.3 819.9h1.4v1.4h-1.4zM266.5 844.9h1.4v1.4h-1.4zM229.4 802.8h1.4v1.4h-1.4zM330.0 835.7h1.4v1.4h-1.4zM330.0 817.4h1.4v1.4h-1.4zM338.6 837.1h1.4v1.4h-1.4zM271.5 815.7h1.4v1.4h-1.4zM354.9 833.0h1.4v1.4h-1.4zM281.4 825.5h1.4v1.4h-1.4zM349.2 805.3h1.4v1.4h-1.4z" fill="#2a2a2a"/>
<rect x="210" y="749" width="170" height="127" filter="url(#nz)" opacity="0.42" style="mix-blend-mode:overlay"/>
</g>
</svg></body></html>
